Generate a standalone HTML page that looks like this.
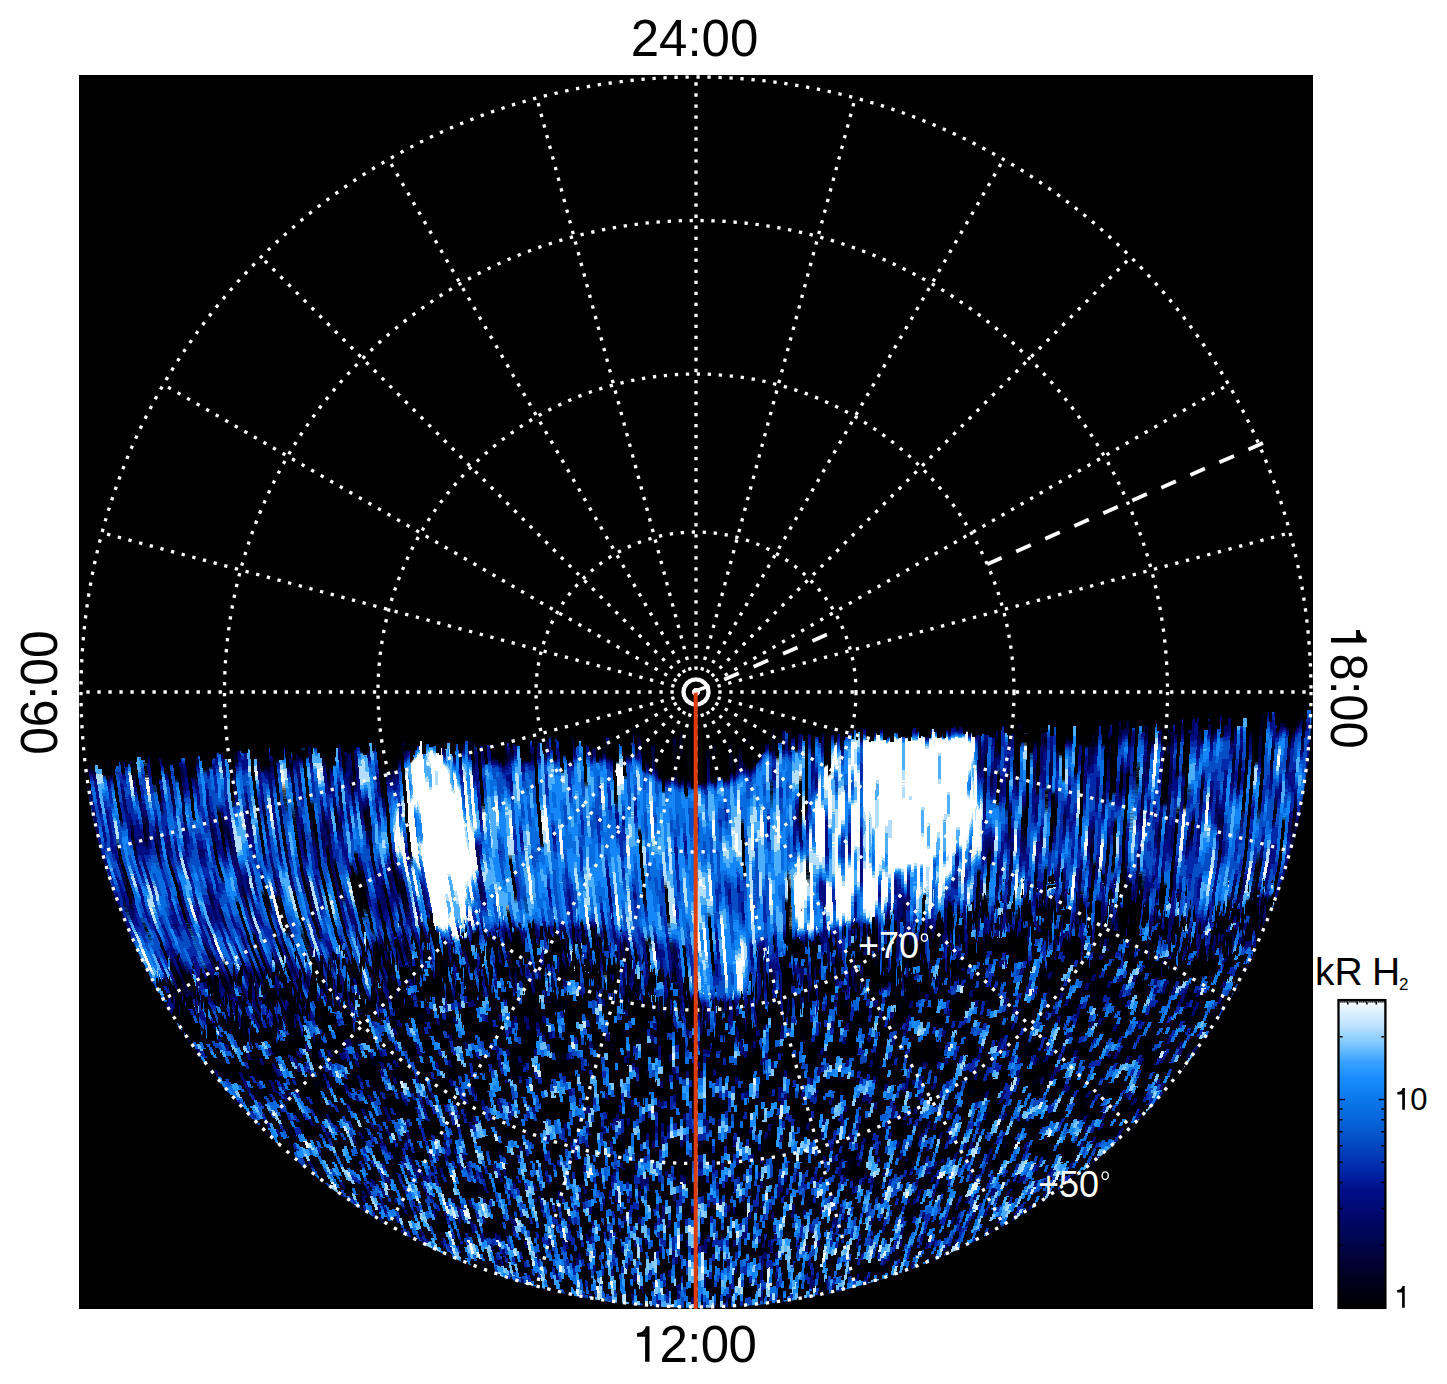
<!DOCTYPE html>
<html><head><meta charset="utf-8"><style>
html,body{margin:0;padding:0;background:#fff;}
svg{display:block;}
text{font-family:"Liberation Sans",sans-serif;}
</style></head><body>
<svg width="1447" height="1384" viewBox="0 0 1447 1384">
<defs>
<clipPath id="sq"><rect x="79" y="75" width="1234" height="1234"/></clipPath>
<clipPath id="circ"><circle cx="696" cy="692" r="616"/></clipPath>
<clipPath id="dc" clip-path="url(#circ)"><path d="M79 767 L82 767 L82 766 L84 766 L84 770 L86 770 L86 766 L88 766 L88 758 L91 758 L91 770 L95 770 L95 765 L98 765 L98 769 L102 769 L102 769 L104 769 L104 756 L106 756 L106 762 L110 762 L110 769 L113 769 L113 769 L116 769 L116 766 L119 766 L119 762 L122 762 L122 762 L125 762 L125 767 L128 767 L128 764 L130 764 L130 761 L133 761 L133 762 L137 762 L137 757 L141 757 L141 760 L145 760 L145 763 L148 763 L148 756 L151 756 L151 766 L154 766 L154 760 L157 760 L157 757 L160 757 L160 759 L162 759 L162 765 L166 765 L166 765 L169 765 L169 765 L173 765 L173 761 L175 761 L175 756 L178 756 L178 762 L181 762 L181 758 L185 758 L185 765 L187 765 L187 752 L191 752 L191 756 L193 756 L193 764 L196 764 L196 756 L200 756 L200 761 L204 761 L204 752 L207 752 L207 764 L211 764 L211 760 L213 760 L213 758 L216 758 L216 753 L219 753 L219 754 L223 754 L223 759 L227 759 L227 762 L231 762 L231 758 L234 758 L234 751 L238 751 L238 751 L241 751 L241 753 L244 753 L244 753 L248 753 L248 749 L251 749 L251 761 L254 761 L254 759 L257 759 L257 762 L260 762 L260 759 L262 759 L262 760 L265 760 L265 754 L268 754 L268 748 L270 748 L270 756 L274 756 L274 756 L278 756 L278 760 L282 760 L282 760 L284 760 L284 747 L288 747 L288 759 L291 759 L291 753 L293 753 L293 760 L296 760 L296 754 L299 754 L299 752 L301 752 L301 748 L305 748 L305 758 L308 758 L308 746 L311 746 L311 754 L313 754 L313 748 L317 748 L317 753 L320 753 L320 758 L322 758 L322 749 L325 749 L325 753 L328 753 L328 752 L331 752 L331 745 L334 745 L334 757 L336 757 L336 748 L339 748 L339 745 L341 745 L341 749 L344 749 L344 752 L347 752 L347 754 L350 754 L350 751 L353 751 L353 750 L356 750 L356 747 L360 747 L360 748 L363 748 L363 755 L367 755 L367 753 L369 753 L369 743 L372 743 L372 751 L375 751 L375 748 L378 748 L378 751 L381 751 L381 743 L384 743 L384 756 L386 756 L386 754 L389 754 L389 753 L393 753 L393 748 L395 748 L395 750 L398 750 L398 745 L400 745 L400 745 L402 745 L402 743 L405 743 L405 750 L408 750 L408 751 L411 751 L411 755 L415 755 L415 750 L417 750 L417 746 L420 746 L420 741 L422 741 L422 754 L426 754 L426 744 L429 744 L429 747 L433 747 L433 746 L436 746 L436 753 L439 753 L439 755 L441 755 L441 748 L444 748 L444 749 L447 749 L447 743 L450 743 L450 754 L453 754 L453 751 L456 751 L456 744 L459 744 L459 751 L463 751 L463 743 L465 743 L465 741 L468 741 L468 742 L472 742 L472 743 L475 743 L475 747 L477 747 L477 742 L480 742 L480 746 L483 746 L483 752 L487 752 L487 745 L489 745 L489 746 L492 746 L492 744 L496 744 L496 743 L498 743 L498 741 L500 741 L500 750 L503 750 L503 753 L505 753 L505 747 L507 747 L507 743 L509 743 L509 747 L512 747 L512 744 L516 744 L516 746 L520 746 L520 746 L523 746 L523 743 L526 743 L526 739 L529 739 L529 741 L532 741 L532 747 L536 747 L536 747 L538 747 L538 743 L542 743 L542 751 L545 751 L545 741 L548 741 L548 738 L551 738 L551 750 L554 750 L554 738 L557 738 L557 741 L559 741 L559 746 L563 746 L563 749 L566 749 L566 749 L570 749 L570 737 L574 737 L574 747 L577 747 L577 746 L579 746 L579 741 L581 741 L581 746 L585 746 L585 745 L587 745 L587 746 L590 746 L590 744 L592 744 L592 749 L595 749 L595 736 L597 736 L597 749 L600 749 L600 749 L603 749 L603 747 L606 747 L606 738 L609 738 L609 745 L613 745 L613 740 L615 740 L615 746 L618 746 L618 744 L620 744 L620 746 L622 746 L622 741 L625 741 L625 748 L628 748 L628 748 L630 748 L630 743 L633 743 L633 734 L637 734 L637 735 L640 735 L640 740 L642 740 L642 741 L645 741 L645 735 L648 735 L648 745 L651 745 L651 745 L654 745 L654 739 L657 739 L657 744 L660 744 L660 744 L662 744 L662 733 L664 733 L664 747 L667 747 L667 740 L670 740 L670 734 L672 734 L672 738 L676 738 L676 738 L680 738 L680 732 L683 732 L683 737 L686 737 L686 742 L689 742 L689 741 L692 741 L692 732 L695 732 L695 745 L698 745 L698 740 L700 740 L700 744 L704 744 L704 733 L707 733 L707 737 L710 737 L710 745 L713 745 L713 743 L717 743 L717 745 L720 745 L720 731 L723 731 L723 742 L726 742 L726 742 L729 742 L729 745 L733 745 L733 744 L736 744 L736 738 L739 738 L739 742 L741 742 L741 744 L743 744 L743 743 L745 743 L745 740 L748 740 L748 741 L751 741 L751 744 L754 744 L754 736 L758 736 L758 734 L762 734 L762 743 L765 743 L765 744 L769 744 L769 734 L772 734 L772 732 L774 732 L774 733 L777 733 L777 743 L779 743 L779 743 L782 743 L782 731 L786 731 L786 733 L788 733 L788 736 L791 736 L791 738 L793 738 L793 738 L795 738 L795 734 L797 734 L797 735 L799 735 L799 734 L803 734 L803 741 L805 741 L805 732 L808 732 L808 734 L811 734 L811 741 L815 741 L815 737 L819 737 L819 743 L822 743 L822 733 L825 733 L825 743 L828 743 L828 740 L831 740 L831 735 L834 735 L834 743 L836 743 L836 737 L838 737 L838 734 L842 734 L842 740 L845 740 L845 737 L849 737 L849 733 L852 733 L852 739 L854 739 L854 730 L856 730 L856 740 L858 740 L858 732 L862 732 L862 729 L866 729 L866 740 L869 740 L869 742 L871 742 L871 741 L874 741 L874 729 L877 729 L877 735 L880 735 L880 730 L883 730 L883 740 L887 740 L887 737 L890 737 L890 742 L894 742 L894 733 L898 733 L898 738 L901 738 L901 737 L905 737 L905 738 L908 738 L908 741 L911 741 L911 730 L913 730 L913 728 L916 728 L916 732 L919 732 L919 738 L921 738 L921 736 L923 736 L923 737 L927 737 L927 731 L929 731 L929 738 L931 738 L931 729 L934 729 L934 732 L937 732 L937 738 L940 738 L940 735 L943 735 L943 738 L946 738 L946 730 L950 730 L950 728 L954 728 L954 727 L957 727 L957 730 L959 730 L959 727 L963 727 L963 734 L966 734 L966 731 L969 731 L969 733 L972 733 L972 737 L976 737 L976 735 L979 735 L979 736 L982 736 L982 734 L985 734 L985 735 L989 735 L989 737 L992 737 L992 738 L996 738 L996 731 L1000 731 L1000 726 L1004 726 L1004 733 L1007 733 L1007 735 L1010 735 L1010 734 L1012 734 L1012 734 L1015 734 L1015 735 L1018 735 L1018 725 L1022 725 L1022 733 L1025 733 L1025 733 L1028 733 L1028 727 L1032 727 L1032 734 L1035 734 L1035 736 L1038 736 L1038 736 L1041 736 L1041 733 L1045 733 L1045 732 L1048 732 L1048 725 L1050 725 L1050 736 L1054 736 L1054 727 L1058 727 L1058 723 L1062 723 L1062 736 L1066 736 L1066 724 L1070 724 L1070 723 L1073 723 L1073 726 L1076 726 L1076 735 L1078 735 L1078 723 L1082 723 L1082 735 L1084 735 L1084 736 L1087 736 L1087 733 L1089 733 L1089 727 L1092 727 L1092 722 L1095 722 L1095 729 L1099 729 L1099 726 L1101 726 L1101 735 L1104 735 L1104 729 L1107 729 L1107 731 L1110 731 L1110 725 L1112 725 L1112 735 L1115 735 L1115 721 L1118 721 L1118 722 L1121 722 L1121 729 L1124 729 L1124 728 L1126 728 L1126 721 L1129 721 L1129 734 L1132 734 L1132 728 L1136 728 L1136 734 L1139 734 L1139 726 L1142 726 L1142 732 L1144 732 L1144 725 L1148 725 L1148 730 L1152 730 L1152 732 L1155 732 L1155 724 L1157 724 L1157 731 L1160 731 L1160 730 L1163 730 L1163 731 L1166 731 L1166 730 L1169 730 L1169 732 L1173 732 L1173 725 L1176 725 L1176 726 L1178 726 L1178 719 L1181 719 L1181 719 L1183 719 L1183 730 L1186 730 L1186 727 L1188 727 L1188 730 L1192 730 L1192 719 L1195 719 L1195 722 L1197 722 L1197 718 L1200 718 L1200 729 L1204 729 L1204 730 L1208 730 L1208 719 L1211 719 L1211 725 L1213 725 L1213 730 L1216 730 L1216 729 L1220 729 L1220 716 L1222 716 L1222 723 L1225 723 L1225 725 L1228 725 L1228 718 L1232 718 L1232 728 L1236 728 L1236 726 L1240 726 L1240 726 L1243 726 L1243 718 L1247 718 L1247 727 L1251 727 L1251 724 L1255 724 L1255 726 L1257 726 L1257 721 L1259 721 L1259 723 L1261 723 L1261 714 L1264 714 L1264 722 L1267 722 L1267 712 L1269 712 L1269 722 L1272 722 L1272 712 L1275 712 L1275 725 L1277 725 L1277 724 L1280 724 L1280 723 L1284 723 L1284 711 L1288 711 L1288 713 L1292 713 L1292 712 L1295 712 L1295 710 L1298 710 L1298 722 L1301 722 L1301 711 L1304 711 L1304 714 L1307 714 L1307 710 L1311 710 L1311 717 L1313 717 L1313 1310 L79 1310 Z"/></clipPath>
<filter id="fU" x="60" y="680" width="1280" height="460" filterUnits="userSpaceOnUse" primitiveUnits="userSpaceOnUse" color-interpolation-filters="sRGB">
<feGaussianBlur in="SourceGraphic" stdDeviation="5" result="src"/>
<feColorMatrix in="src" type="matrix" values="1 0 0 0 0  1 0 0 0 0  1 0 0 0 0  0 0 0 0 1" result="bias"/>
<feColorMatrix in="src" type="matrix" values="0 1 0 0 0  0 0 0 0 0.5  0 0 0 0 0  0 0 0 0 1" result="dmap"/>
<feTurbulence type="fractalNoise" baseFrequency="0.2 0.015" numOctaves="2" seed="11" result="t"/>
<feColorMatrix in="t" type="matrix" values="1.0 0 0 0 0.0  1.0 0 0 0 0.0  1.0 0 0 0 0.0  0 0 0 0 1" result="n0"/>
<feFlood x="60" y="680" width="1" height="1" flood-color="#fff" result="nd"/>
<feComposite in="nd" in2="nd" x="60" y="680" width="3" height="1" operator="over" result="nc"/>
<feTile in="nc" x="60" y="680" width="1280" height="460" result="ng"/>
<feComposite in="n0" in2="ng" operator="in" result="ns"/>
<feMorphology in="ns" operator="dilate" radius="1 0" result="n"/>
<feDisplacementMap in="n" in2="dmap" scale="240.0" xChannelSelector="R" yChannelSelector="G" result="nd"/>
<feColorMatrix in="src" type="matrix" values="0 0 1 0 0  0 0 1 0 0  0 0 1 0 0  0 0 0 0 1" result="amap"/>
<feComposite in="amap" in2="nd" operator="arithmetic" k1="3.0" k2="-1.5" k3="0" k4="0.5" result="p"/>
<feComposite in="bias" in2="p" operator="arithmetic" k1="0" k2="1.6" k3="1" k4="-0.8" result="s"/>
<feComponentTransfer in="s" result="c">
<feFuncR type="discrete" tableValues="0.000 0.000 0.000 0.000 0.000 0.001 0.018 0.031 0.082 0.305 0.707 1.000"/>
<feFuncG type="discrete" tableValues="0.000 0.000 0.013 0.027 0.050 0.164 0.304 0.424 0.529 0.680 0.874 1.000"/>
<feFuncB type="discrete" tableValues="0.000 0.114 0.254 0.385 0.511 0.664 0.770 0.878 0.976 1.000 1.000 1.000"/>
<feFuncA type="linear" slope="0" intercept="1"/>
</feComponentTransfer>
<feTurbulence type="fractalNoise" baseFrequency="0.3 0.006" numOctaves="2" seed="31" result="tg"/>
<feColorMatrix in="tg" type="matrix" values="1 0 0 0 0  1 0 0 0 0  1 0 0 0 0  0 0 0 0 1" result="g0"/>
<feFlood x="60" y="680" width="1" height="1" flood-color="#fff" result="gqd"/>
<feComposite in="gqd" in2="gqd" x="60" y="680" width="3" height="1" operator="over" result="gqc"/>
<feTile in="gqc" x="60" y="680" width="1280" height="460" result="gqg"/>
<feComposite in="g0" in2="gqg" operator="in" result="gqs"/>
<feMorphology in="gqs" operator="dilate" radius="1 0" result="gq"/>
<feDisplacementMap in="gq" in2="dmap" scale="240.0" xChannelSelector="R" yChannelSelector="G" result="gd"/>
<feComposite in="gd" in2="bias" operator="arithmetic" k1="0" k2="1" k3="0.5" k4="-0.245" result="gv"/>
<feComponentTransfer in="gv" result="gm"><feFuncR type="linear" slope="40" intercept="-14.0"/><feFuncG type="linear" slope="40" intercept="-14.0"/><feFuncB type="linear" slope="40" intercept="-14.0"/><feFuncA type="linear" slope="0" intercept="1"/></feComponentTransfer>
<feComposite in="c" in2="gm" operator="arithmetic" k1="1" k2="0" k3="0" k4="0"/>
</filter>
<filter id="fL" x="60" y="880" width="1280" height="450" filterUnits="userSpaceOnUse" primitiveUnits="userSpaceOnUse" color-interpolation-filters="sRGB">
<feGaussianBlur in="SourceGraphic" stdDeviation="5" result="src"/>
<feColorMatrix in="src" type="matrix" values="1 0 0 0 0  1 0 0 0 0  1 0 0 0 0  0 0 0 0 1" result="bias"/>
<feColorMatrix in="src" type="matrix" values="0 1 0 0 0  0 0 0 0 0.5  0 0 0 0 0  0 0 0 0 1" result="dmap"/>
<feTurbulence type="fractalNoise" baseFrequency="0.15 0.05" numOctaves="3" seed="5" result="t"/>
<feColorMatrix in="t" type="matrix" values="0.87 0 0 0 0.065  0.87 0 0 0 0.065  0.87 0 0 0 0.065  0 0 0 0 1" result="n0"/>
<feFlood x="61" y="883" width="1" height="1" flood-color="#fff" result="nd0"/>
<feFlood x="64" y="886" width="1" height="1" flood-color="#fff" result="nd1"/>
<feFlood x="67" y="884" width="1" height="1" flood-color="#fff" result="nd2"/>
<feFlood x="70" y="886" width="1" height="1" flood-color="#fff" result="nd3"/>
<feFlood x="73" y="883" width="1" height="1" flood-color="#fff" result="nd4"/>
<feFlood x="76" y="884" width="1" height="1" flood-color="#fff" result="nd5"/>
<feFlood x="79" y="886" width="1" height="1" flood-color="#fff" result="nd6"/>
<feFlood x="82" y="884" width="1" height="1" flood-color="#fff" result="nd7"/>
<feFlood x="85" y="881" width="1" height="1" flood-color="#fff" result="nd8"/>
<feFlood x="88" y="886" width="1" height="1" flood-color="#fff" result="nd9"/>
<feFlood x="91" y="884" width="1" height="1" flood-color="#fff" result="nd10"/>
<feFlood x="94" y="883" width="1" height="1" flood-color="#fff" result="nd11"/>
<feFlood x="97" y="885" width="1" height="1" flood-color="#fff" result="nd12"/>
<feFlood x="100" y="884" width="1" height="1" flood-color="#fff" result="nd13"/>
<feFlood x="103" y="886" width="1" height="1" flood-color="#fff" result="nd14"/>
<feFlood x="106" y="881" width="1" height="1" flood-color="#fff" result="nd15"/>
<feFlood x="109" y="880" width="1" height="1" flood-color="#fff" result="nd16"/>
<feFlood x="112" y="883" width="1" height="1" flood-color="#fff" result="nd17"/>
<feFlood x="115" y="882" width="1" height="1" flood-color="#fff" result="nd18"/>
<feFlood x="118" y="881" width="1" height="1" flood-color="#fff" result="nd19"/>
<feFlood x="121" y="880" width="1" height="1" flood-color="#fff" result="nd20"/>
<feFlood x="124" y="884" width="1" height="1" flood-color="#fff" result="nd21"/>
<feFlood x="127" y="886" width="1" height="1" flood-color="#fff" result="nd22"/>
<feFlood x="130" y="885" width="1" height="1" flood-color="#fff" result="nd23"/>
<feFlood x="133" y="880" width="1" height="1" flood-color="#fff" result="nd24"/>
<feFlood x="136" y="884" width="1" height="1" flood-color="#fff" result="nd25"/>
<feFlood x="139" y="883" width="1" height="1" flood-color="#fff" result="nd26"/>
<feFlood x="142" y="885" width="1" height="1" flood-color="#fff" result="nd27"/>
<feFlood x="145" y="884" width="1" height="1" flood-color="#fff" result="nd28"/>
<feFlood x="148" y="885" width="1" height="1" flood-color="#fff" result="nd29"/>
<feFlood x="151" y="881" width="1" height="1" flood-color="#fff" result="nd30"/>
<feMerge x="60" y="880" width="93" height="7" result="nc"><feMergeNode in="nd0"/><feMergeNode in="nd1"/><feMergeNode in="nd2"/><feMergeNode in="nd3"/><feMergeNode in="nd4"/><feMergeNode in="nd5"/><feMergeNode in="nd6"/><feMergeNode in="nd7"/><feMergeNode in="nd8"/><feMergeNode in="nd9"/><feMergeNode in="nd10"/><feMergeNode in="nd11"/><feMergeNode in="nd12"/><feMergeNode in="nd13"/><feMergeNode in="nd14"/><feMergeNode in="nd15"/><feMergeNode in="nd16"/><feMergeNode in="nd17"/><feMergeNode in="nd18"/><feMergeNode in="nd19"/><feMergeNode in="nd20"/><feMergeNode in="nd21"/><feMergeNode in="nd22"/><feMergeNode in="nd23"/><feMergeNode in="nd24"/><feMergeNode in="nd25"/><feMergeNode in="nd26"/><feMergeNode in="nd27"/><feMergeNode in="nd28"/><feMergeNode in="nd29"/><feMergeNode in="nd30"/></feMerge>
<feTile in="nc" x="60" y="880" width="1280" height="450" result="ng"/>
<feComposite in="n0" in2="ng" operator="in" result="ns"/>
<feMorphology in="ns" operator="dilate" radius="1 3" result="n"/>
<feDisplacementMap in="n" in2="dmap" scale="345.0" xChannelSelector="R" yChannelSelector="G" result="nd"/>
<feColorMatrix in="src" type="matrix" values="0 0 1 0 0  0 0 1 0 0  0 0 1 0 0  0 0 0 0 1" result="amap"/>
<feComposite in="amap" in2="nd" operator="arithmetic" k1="3.0" k2="-1.5" k3="0" k4="0.5" result="p"/>
<feComposite in="bias" in2="p" operator="arithmetic" k1="0" k2="1.6" k3="1" k4="-0.8" result="s"/>
<feComponentTransfer in="s" result="c">
<feFuncR type="discrete" tableValues="0.000 0.000 0.000 0.000 0.000 0.000 0.000 0.000 0.000 0.000 0.000 0.000 0.000 0.000 0.000 0.000 0.000 0.000 0.000 0.000 0.000 0.000 0.016 0.023 0.033 0.059 0.101 0.184 0.287 0.402 0.496 0.563 0.673 0.779 0.837 0.879 1.000 1.000 1.000 1.000"/>
<feFuncG type="discrete" tableValues="0.000 0.000 0.000 0.000 0.000 0.000 0.000 0.000 0.000 0.000 0.000 0.000 0.000 0.000 0.000 0.000 0.000 0.000 0.000 0.000 0.032 0.148 0.271 0.372 0.438 0.498 0.555 0.612 0.671 0.732 0.781 0.811 0.859 0.905 0.930 0.948 1.000 1.000 1.000 1.000"/>
<feFuncB type="discrete" tableValues="0.000 0.000 0.000 0.000 0.001 0.001 0.001 0.002 0.002 0.003 0.004 0.006 0.007 0.009 0.011 0.014 0.017 0.019 0.023 0.092 0.429 0.648 0.741 0.828 0.892 0.949 0.999 1.000 1.000 1.000 1.000 1.000 1.000 1.000 1.000 1.000 1.000 1.000 1.000 1.000"/>
<feFuncA type="linear" slope="0" intercept="1"/>
</feComponentTransfer>

</filter>
<filter id="mthr" x="60" y="600" width="1280" height="730" filterUnits="userSpaceOnUse" primitiveUnits="userSpaceOnUse" color-interpolation-filters="sRGB">
<feGaussianBlur in="SourceGraphic" stdDeviation="13" result="b"/>
<feColorMatrix in="b" type="matrix" values="1 0 0 0 0  1 0 0 0 0  1 0 0 0 0  0 0 0 0 1" result="m"/>
<feTurbulence type="fractalNoise" baseFrequency="0.25 0.03" numOctaves="2" seed="21" result="t"/>
<feColorMatrix in="t" type="matrix" values="2.2 0 0 0 -0.6  2.2 0 0 0 -0.6  2.2 0 0 0 -0.6  0 0 0 0 1" result="tn0"/>
<feComponentTransfer in="tn0" result="tn"><feFuncR type="linear" slope="-0.94" intercept="0.97"/><feFuncG type="linear" slope="-0.94" intercept="0.97"/><feFuncB type="linear" slope="-0.94" intercept="0.97"/><feFuncA type="linear" slope="0" intercept="1"/></feComponentTransfer>
<feComposite in="m" in2="tn" operator="arithmetic" k1="0" k2="1" k3="1" k4="-0.5" result="d"/>
<feComponentTransfer in="d"><feFuncR type="linear" slope="60" intercept="-30"/><feFuncG type="linear" slope="60" intercept="-30"/><feFuncB type="linear" slope="60" intercept="-30"/><feFuncA type="linear" slope="0" intercept="1"/></feComponentTransfer>
</filter>
<mask id="mU" maskUnits="userSpaceOnUse" x="60" y="600" width="1280" height="730">
<g filter="url(#mthr)"><rect x="0" y="560" width="1447" height="824" fill="#000"/><path d="M60.0 600.0 L1340.0 600.0 L1340.0 880.0 L1300.0 880.0 L1200.0 920.0 L1100.0 900.0 L1000.0 900.0 L900.0 930.0 L800.0 940.0 L745.0 1000.0 L690.0 1000.0 L600.0 935.0 L480.0 935.0 L420.0 940.0 L300.0 980.0 L85.0 1000.0 L60.0 1000.0 Z" fill="#fff"/><path d="M60.0 985.0 L300.0 965.0 L420.0 928.0 L600.0 925.0 L690.0 990.0 L745.0 990.0 L800.0 930.0 L900.0 920.0 L1000.0 890.0 L1100.0 890.0 L1200.0 910.0 L1340.0 870.0 L1340.0 930.0 L1200.0 965.0 L1100.0 950.0 L1000.0 955.0 L900.0 985.0 L800.0 1000.0 L745.0 1040.0 L690.0 1040.0 L600.0 995.0 L420.0 995.0 L300.0 1030.0 L60.0 1040.0 Z" fill="rgb(115,115,115)"/></g>
</mask>
<linearGradient id="a0" x1="0" y1="680" x2="0" y2="1140" gradientUnits="userSpaceOnUse"><stop offset="0.000" stop-color="rgb(0,206,0)"/><stop offset="0.130" stop-color="rgb(0,198,0)"/><stop offset="0.261" stop-color="rgb(0,189,0)"/><stop offset="0.391" stop-color="rgb(0,178,0)"/><stop offset="0.522" stop-color="rgb(0,158,0)"/><stop offset="0.652" stop-color="rgb(0,129,0)"/><stop offset="0.783" stop-color="rgb(0,89,0)"/><stop offset="0.913" stop-color="rgb(0,40,0)"/><stop offset="1.000" stop-color="rgb(0,2,0)"/></linearGradient>
<linearGradient id="a1" x1="0" y1="680" x2="0" y2="1140" gradientUnits="userSpaceOnUse"><stop offset="0.000" stop-color="rgb(0,205,0)"/><stop offset="0.130" stop-color="rgb(0,196,0)"/><stop offset="0.261" stop-color="rgb(0,188,0)"/><stop offset="0.391" stop-color="rgb(0,177,0)"/><stop offset="0.522" stop-color="rgb(0,158,0)"/><stop offset="0.652" stop-color="rgb(0,129,0)"/><stop offset="0.783" stop-color="rgb(0,90,0)"/><stop offset="0.913" stop-color="rgb(0,42,0)"/><stop offset="1.000" stop-color="rgb(0,5,0)"/></linearGradient>
<linearGradient id="a2" x1="0" y1="680" x2="0" y2="1140" gradientUnits="userSpaceOnUse"><stop offset="0.000" stop-color="rgb(0,203,0)"/><stop offset="0.130" stop-color="rgb(0,195,0)"/><stop offset="0.261" stop-color="rgb(0,186,0)"/><stop offset="0.391" stop-color="rgb(0,176,0)"/><stop offset="0.522" stop-color="rgb(0,157,0)"/><stop offset="0.652" stop-color="rgb(0,129,0)"/><stop offset="0.783" stop-color="rgb(0,91,0)"/><stop offset="0.913" stop-color="rgb(0,44,0)"/><stop offset="1.000" stop-color="rgb(0,7,0)"/></linearGradient>
<linearGradient id="a3" x1="0" y1="680" x2="0" y2="1140" gradientUnits="userSpaceOnUse"><stop offset="0.000" stop-color="rgb(0,201,0)"/><stop offset="0.130" stop-color="rgb(0,193,0)"/><stop offset="0.261" stop-color="rgb(0,185,0)"/><stop offset="0.391" stop-color="rgb(0,175,0)"/><stop offset="0.522" stop-color="rgb(0,156,0)"/><stop offset="0.652" stop-color="rgb(0,129,0)"/><stop offset="0.783" stop-color="rgb(0,92,0)"/><stop offset="0.913" stop-color="rgb(0,46,0)"/><stop offset="1.000" stop-color="rgb(0,10,0)"/></linearGradient>
<linearGradient id="a4" x1="0" y1="680" x2="0" y2="1140" gradientUnits="userSpaceOnUse"><stop offset="0.000" stop-color="rgb(0,200,0)"/><stop offset="0.130" stop-color="rgb(0,192,0)"/><stop offset="0.261" stop-color="rgb(0,184,0)"/><stop offset="0.391" stop-color="rgb(0,174,0)"/><stop offset="0.522" stop-color="rgb(0,156,0)"/><stop offset="0.652" stop-color="rgb(0,129,0)"/><stop offset="0.783" stop-color="rgb(0,93,0)"/><stop offset="0.913" stop-color="rgb(0,47,0)"/><stop offset="1.000" stop-color="rgb(0,13,0)"/></linearGradient>
<linearGradient id="a5" x1="0" y1="680" x2="0" y2="1140" gradientUnits="userSpaceOnUse"><stop offset="0.000" stop-color="rgb(0,198,0)"/><stop offset="0.130" stop-color="rgb(0,190,0)"/><stop offset="0.261" stop-color="rgb(0,183,0)"/><stop offset="0.391" stop-color="rgb(0,173,0)"/><stop offset="0.522" stop-color="rgb(0,155,0)"/><stop offset="0.652" stop-color="rgb(0,129,0)"/><stop offset="0.783" stop-color="rgb(0,93,0)"/><stop offset="0.913" stop-color="rgb(0,49,0)"/><stop offset="1.000" stop-color="rgb(0,15,0)"/></linearGradient>
<linearGradient id="a6" x1="0" y1="680" x2="0" y2="1140" gradientUnits="userSpaceOnUse"><stop offset="0.000" stop-color="rgb(0,197,0)"/><stop offset="0.130" stop-color="rgb(0,189,0)"/><stop offset="0.261" stop-color="rgb(0,181,0)"/><stop offset="0.391" stop-color="rgb(0,172,0)"/><stop offset="0.522" stop-color="rgb(0,155,0)"/><stop offset="0.652" stop-color="rgb(0,129,0)"/><stop offset="0.783" stop-color="rgb(0,94,0)"/><stop offset="0.913" stop-color="rgb(0,51,0)"/><stop offset="1.000" stop-color="rgb(0,18,0)"/></linearGradient>
<linearGradient id="a7" x1="0" y1="680" x2="0" y2="1140" gradientUnits="userSpaceOnUse"><stop offset="0.000" stop-color="rgb(0,195,0)"/><stop offset="0.130" stop-color="rgb(0,188,0)"/><stop offset="0.261" stop-color="rgb(0,180,0)"/><stop offset="0.391" stop-color="rgb(0,171,0)"/><stop offset="0.522" stop-color="rgb(0,154,0)"/><stop offset="0.652" stop-color="rgb(0,129,0)"/><stop offset="0.783" stop-color="rgb(0,95,0)"/><stop offset="0.913" stop-color="rgb(0,53,0)"/><stop offset="1.000" stop-color="rgb(0,20,0)"/></linearGradient>
<linearGradient id="a8" x1="0" y1="680" x2="0" y2="1140" gradientUnits="userSpaceOnUse"><stop offset="0.000" stop-color="rgb(0,193,0)"/><stop offset="0.130" stop-color="rgb(0,186,0)"/><stop offset="0.261" stop-color="rgb(0,179,0)"/><stop offset="0.391" stop-color="rgb(0,170,0)"/><stop offset="0.522" stop-color="rgb(0,153,0)"/><stop offset="0.652" stop-color="rgb(0,129,0)"/><stop offset="0.783" stop-color="rgb(0,96,0)"/><stop offset="0.913" stop-color="rgb(0,55,0)"/><stop offset="1.000" stop-color="rgb(0,23,0)"/></linearGradient>
<linearGradient id="a9" x1="0" y1="680" x2="0" y2="1140" gradientUnits="userSpaceOnUse"><stop offset="0.000" stop-color="rgb(0,192,0)"/><stop offset="0.130" stop-color="rgb(0,185,0)"/><stop offset="0.261" stop-color="rgb(0,178,0)"/><stop offset="0.391" stop-color="rgb(0,169,0)"/><stop offset="0.522" stop-color="rgb(0,153,0)"/><stop offset="0.652" stop-color="rgb(0,128,0)"/><stop offset="0.783" stop-color="rgb(0,96,0)"/><stop offset="0.913" stop-color="rgb(0,56,0)"/><stop offset="1.000" stop-color="rgb(0,25,0)"/></linearGradient>
<linearGradient id="a10" x1="0" y1="680" x2="0" y2="1140" gradientUnits="userSpaceOnUse"><stop offset="0.000" stop-color="rgb(0,190,0)"/><stop offset="0.130" stop-color="rgb(0,183,0)"/><stop offset="0.261" stop-color="rgb(0,177,0)"/><stop offset="0.391" stop-color="rgb(0,168,0)"/><stop offset="0.522" stop-color="rgb(0,152,0)"/><stop offset="0.652" stop-color="rgb(0,128,0)"/><stop offset="0.783" stop-color="rgb(0,97,0)"/><stop offset="0.913" stop-color="rgb(0,58,0)"/><stop offset="1.000" stop-color="rgb(0,28,0)"/></linearGradient>
<linearGradient id="a11" x1="0" y1="680" x2="0" y2="1140" gradientUnits="userSpaceOnUse"><stop offset="0.000" stop-color="rgb(0,189,0)"/><stop offset="0.130" stop-color="rgb(0,182,0)"/><stop offset="0.261" stop-color="rgb(0,175,0)"/><stop offset="0.391" stop-color="rgb(0,167,0)"/><stop offset="0.522" stop-color="rgb(0,151,0)"/><stop offset="0.652" stop-color="rgb(0,128,0)"/><stop offset="0.783" stop-color="rgb(0,98,0)"/><stop offset="0.913" stop-color="rgb(0,60,0)"/><stop offset="1.000" stop-color="rgb(0,30,0)"/></linearGradient>
<linearGradient id="a12" x1="0" y1="680" x2="0" y2="1140" gradientUnits="userSpaceOnUse"><stop offset="0.000" stop-color="rgb(0,187,0)"/><stop offset="0.130" stop-color="rgb(0,181,0)"/><stop offset="0.261" stop-color="rgb(0,174,0)"/><stop offset="0.391" stop-color="rgb(0,166,0)"/><stop offset="0.522" stop-color="rgb(0,151,0)"/><stop offset="0.652" stop-color="rgb(0,128,0)"/><stop offset="0.783" stop-color="rgb(0,99,0)"/><stop offset="0.913" stop-color="rgb(0,62,0)"/><stop offset="1.000" stop-color="rgb(0,33,0)"/></linearGradient>
<linearGradient id="a13" x1="0" y1="680" x2="0" y2="1140" gradientUnits="userSpaceOnUse"><stop offset="0.000" stop-color="rgb(0,185,0)"/><stop offset="0.130" stop-color="rgb(0,179,0)"/><stop offset="0.261" stop-color="rgb(0,173,0)"/><stop offset="0.391" stop-color="rgb(0,165,0)"/><stop offset="0.522" stop-color="rgb(0,150,0)"/><stop offset="0.652" stop-color="rgb(0,128,0)"/><stop offset="0.783" stop-color="rgb(0,99,0)"/><stop offset="0.913" stop-color="rgb(0,63,0)"/><stop offset="1.000" stop-color="rgb(0,35,0)"/></linearGradient>
<linearGradient id="a14" x1="0" y1="680" x2="0" y2="1140" gradientUnits="userSpaceOnUse"><stop offset="0.000" stop-color="rgb(0,184,0)"/><stop offset="0.130" stop-color="rgb(0,178,0)"/><stop offset="0.261" stop-color="rgb(0,172,0)"/><stop offset="0.391" stop-color="rgb(0,164,0)"/><stop offset="0.522" stop-color="rgb(0,150,0)"/><stop offset="0.652" stop-color="rgb(0,128,0)"/><stop offset="0.783" stop-color="rgb(0,100,0)"/><stop offset="0.913" stop-color="rgb(0,65,0)"/><stop offset="1.000" stop-color="rgb(0,38,0)"/></linearGradient>
<linearGradient id="a15" x1="0" y1="680" x2="0" y2="1140" gradientUnits="userSpaceOnUse"><stop offset="0.000" stop-color="rgb(0,182,0)"/><stop offset="0.130" stop-color="rgb(0,176,0)"/><stop offset="0.261" stop-color="rgb(0,170,0)"/><stop offset="0.391" stop-color="rgb(0,163,0)"/><stop offset="0.522" stop-color="rgb(0,149,0)"/><stop offset="0.652" stop-color="rgb(0,128,0)"/><stop offset="0.783" stop-color="rgb(0,101,0)"/><stop offset="0.913" stop-color="rgb(0,67,0)"/><stop offset="1.000" stop-color="rgb(0,40,0)"/></linearGradient>
<linearGradient id="a16" x1="0" y1="680" x2="0" y2="1140" gradientUnits="userSpaceOnUse"><stop offset="0.000" stop-color="rgb(0,181,0)"/><stop offset="0.130" stop-color="rgb(0,175,0)"/><stop offset="0.261" stop-color="rgb(0,169,0)"/><stop offset="0.391" stop-color="rgb(0,162,0)"/><stop offset="0.522" stop-color="rgb(0,148,0)"/><stop offset="0.652" stop-color="rgb(0,128,0)"/><stop offset="0.783" stop-color="rgb(0,102,0)"/><stop offset="0.913" stop-color="rgb(0,69,0)"/><stop offset="1.000" stop-color="rgb(0,43,0)"/></linearGradient>
<linearGradient id="a17" x1="0" y1="680" x2="0" y2="1140" gradientUnits="userSpaceOnUse"><stop offset="0.000" stop-color="rgb(0,179,0)"/><stop offset="0.130" stop-color="rgb(0,173,0)"/><stop offset="0.261" stop-color="rgb(0,168,0)"/><stop offset="0.391" stop-color="rgb(0,161,0)"/><stop offset="0.522" stop-color="rgb(0,148,0)"/><stop offset="0.652" stop-color="rgb(0,128,0)"/><stop offset="0.783" stop-color="rgb(0,103,0)"/><stop offset="0.913" stop-color="rgb(0,70,0)"/><stop offset="1.000" stop-color="rgb(0,45,0)"/></linearGradient>
<linearGradient id="a18" x1="0" y1="680" x2="0" y2="1140" gradientUnits="userSpaceOnUse"><stop offset="0.000" stop-color="rgb(0,178,0)"/><stop offset="0.130" stop-color="rgb(0,172,0)"/><stop offset="0.261" stop-color="rgb(0,167,0)"/><stop offset="0.391" stop-color="rgb(0,160,0)"/><stop offset="0.522" stop-color="rgb(0,147,0)"/><stop offset="0.652" stop-color="rgb(0,128,0)"/><stop offset="0.783" stop-color="rgb(0,103,0)"/><stop offset="0.913" stop-color="rgb(0,72,0)"/><stop offset="1.000" stop-color="rgb(0,48,0)"/></linearGradient>
<linearGradient id="a19" x1="0" y1="680" x2="0" y2="1140" gradientUnits="userSpaceOnUse"><stop offset="0.000" stop-color="rgb(0,176,0)"/><stop offset="0.130" stop-color="rgb(0,171,0)"/><stop offset="0.261" stop-color="rgb(0,165,0)"/><stop offset="0.391" stop-color="rgb(0,159,0)"/><stop offset="0.522" stop-color="rgb(0,146,0)"/><stop offset="0.652" stop-color="rgb(0,128,0)"/><stop offset="0.783" stop-color="rgb(0,104,0)"/><stop offset="0.913" stop-color="rgb(0,74,0)"/><stop offset="1.000" stop-color="rgb(0,50,0)"/></linearGradient>
<linearGradient id="a20" x1="0" y1="680" x2="0" y2="1140" gradientUnits="userSpaceOnUse"><stop offset="0.000" stop-color="rgb(0,174,0)"/><stop offset="0.130" stop-color="rgb(0,169,0)"/><stop offset="0.261" stop-color="rgb(0,164,0)"/><stop offset="0.391" stop-color="rgb(0,158,0)"/><stop offset="0.522" stop-color="rgb(0,146,0)"/><stop offset="0.652" stop-color="rgb(0,128,0)"/><stop offset="0.783" stop-color="rgb(0,105,0)"/><stop offset="0.913" stop-color="rgb(0,76,0)"/><stop offset="1.000" stop-color="rgb(0,53,0)"/></linearGradient>
<linearGradient id="a21" x1="0" y1="680" x2="0" y2="1140" gradientUnits="userSpaceOnUse"><stop offset="0.000" stop-color="rgb(0,173,0)"/><stop offset="0.130" stop-color="rgb(0,168,0)"/><stop offset="0.261" stop-color="rgb(0,163,0)"/><stop offset="0.391" stop-color="rgb(0,157,0)"/><stop offset="0.522" stop-color="rgb(0,145,0)"/><stop offset="0.652" stop-color="rgb(0,128,0)"/><stop offset="0.783" stop-color="rgb(0,106,0)"/><stop offset="0.913" stop-color="rgb(0,77,0)"/><stop offset="1.000" stop-color="rgb(0,55,0)"/></linearGradient>
<linearGradient id="a22" x1="0" y1="680" x2="0" y2="1140" gradientUnits="userSpaceOnUse"><stop offset="0.000" stop-color="rgb(0,171,0)"/><stop offset="0.130" stop-color="rgb(0,166,0)"/><stop offset="0.261" stop-color="rgb(0,162,0)"/><stop offset="0.391" stop-color="rgb(0,156,0)"/><stop offset="0.522" stop-color="rgb(0,145,0)"/><stop offset="0.652" stop-color="rgb(0,128,0)"/><stop offset="0.783" stop-color="rgb(0,106,0)"/><stop offset="0.913" stop-color="rgb(0,79,0)"/><stop offset="1.000" stop-color="rgb(0,58,0)"/></linearGradient>
<linearGradient id="a23" x1="0" y1="680" x2="0" y2="1140" gradientUnits="userSpaceOnUse"><stop offset="0.000" stop-color="rgb(0,170,0)"/><stop offset="0.130" stop-color="rgb(0,165,0)"/><stop offset="0.261" stop-color="rgb(0,160,0)"/><stop offset="0.391" stop-color="rgb(0,155,0)"/><stop offset="0.522" stop-color="rgb(0,144,0)"/><stop offset="0.652" stop-color="rgb(0,128,0)"/><stop offset="0.783" stop-color="rgb(0,107,0)"/><stop offset="0.913" stop-color="rgb(0,81,0)"/><stop offset="1.000" stop-color="rgb(0,61,0)"/></linearGradient>
<linearGradient id="a24" x1="0" y1="680" x2="0" y2="1140" gradientUnits="userSpaceOnUse"><stop offset="0.000" stop-color="rgb(0,168,0)"/><stop offset="0.130" stop-color="rgb(0,164,0)"/><stop offset="0.261" stop-color="rgb(0,159,0)"/><stop offset="0.391" stop-color="rgb(0,154,0)"/><stop offset="0.522" stop-color="rgb(0,143,0)"/><stop offset="0.652" stop-color="rgb(0,128,0)"/><stop offset="0.783" stop-color="rgb(0,108,0)"/><stop offset="0.913" stop-color="rgb(0,83,0)"/><stop offset="1.000" stop-color="rgb(0,63,0)"/></linearGradient>
<linearGradient id="a25" x1="0" y1="680" x2="0" y2="1140" gradientUnits="userSpaceOnUse"><stop offset="0.000" stop-color="rgb(0,166,0)"/><stop offset="0.130" stop-color="rgb(0,162,0)"/><stop offset="0.261" stop-color="rgb(0,158,0)"/><stop offset="0.391" stop-color="rgb(0,153,0)"/><stop offset="0.522" stop-color="rgb(0,143,0)"/><stop offset="0.652" stop-color="rgb(0,128,0)"/><stop offset="0.783" stop-color="rgb(0,109,0)"/><stop offset="0.913" stop-color="rgb(0,84,0)"/><stop offset="1.000" stop-color="rgb(0,66,0)"/></linearGradient>
<linearGradient id="a26" x1="0" y1="680" x2="0" y2="1140" gradientUnits="userSpaceOnUse"><stop offset="0.000" stop-color="rgb(0,165,0)"/><stop offset="0.130" stop-color="rgb(0,161,0)"/><stop offset="0.261" stop-color="rgb(0,157,0)"/><stop offset="0.391" stop-color="rgb(0,152,0)"/><stop offset="0.522" stop-color="rgb(0,142,0)"/><stop offset="0.652" stop-color="rgb(0,128,0)"/><stop offset="0.783" stop-color="rgb(0,109,0)"/><stop offset="0.913" stop-color="rgb(0,86,0)"/><stop offset="1.000" stop-color="rgb(0,68,0)"/></linearGradient>
<linearGradient id="a27" x1="0" y1="680" x2="0" y2="1140" gradientUnits="userSpaceOnUse"><stop offset="0.000" stop-color="rgb(0,163,0)"/><stop offset="0.130" stop-color="rgb(0,159,0)"/><stop offset="0.261" stop-color="rgb(0,155,0)"/><stop offset="0.391" stop-color="rgb(0,151,0)"/><stop offset="0.522" stop-color="rgb(0,141,0)"/><stop offset="0.652" stop-color="rgb(0,128,0)"/><stop offset="0.783" stop-color="rgb(0,110,0)"/><stop offset="0.913" stop-color="rgb(0,88,0)"/><stop offset="1.000" stop-color="rgb(0,71,0)"/></linearGradient>
<linearGradient id="a28" x1="0" y1="680" x2="0" y2="1140" gradientUnits="userSpaceOnUse"><stop offset="0.000" stop-color="rgb(0,162,0)"/><stop offset="0.130" stop-color="rgb(0,158,0)"/><stop offset="0.261" stop-color="rgb(0,154,0)"/><stop offset="0.391" stop-color="rgb(0,150,0)"/><stop offset="0.522" stop-color="rgb(0,141,0)"/><stop offset="0.652" stop-color="rgb(0,128,0)"/><stop offset="0.783" stop-color="rgb(0,111,0)"/><stop offset="0.913" stop-color="rgb(0,90,0)"/><stop offset="1.000" stop-color="rgb(0,73,0)"/></linearGradient>
<linearGradient id="a29" x1="0" y1="680" x2="0" y2="1140" gradientUnits="userSpaceOnUse"><stop offset="0.000" stop-color="rgb(0,160,0)"/><stop offset="0.130" stop-color="rgb(0,156,0)"/><stop offset="0.261" stop-color="rgb(0,153,0)"/><stop offset="0.391" stop-color="rgb(0,148,0)"/><stop offset="0.522" stop-color="rgb(0,140,0)"/><stop offset="0.652" stop-color="rgb(0,128,0)"/><stop offset="0.783" stop-color="rgb(0,112,0)"/><stop offset="0.913" stop-color="rgb(0,91,0)"/><stop offset="1.000" stop-color="rgb(0,76,0)"/></linearGradient>
<linearGradient id="a30" x1="0" y1="680" x2="0" y2="1140" gradientUnits="userSpaceOnUse"><stop offset="0.000" stop-color="rgb(0,158,0)"/><stop offset="0.130" stop-color="rgb(0,155,0)"/><stop offset="0.261" stop-color="rgb(0,152,0)"/><stop offset="0.391" stop-color="rgb(0,147,0)"/><stop offset="0.522" stop-color="rgb(0,140,0)"/><stop offset="0.652" stop-color="rgb(0,128,0)"/><stop offset="0.783" stop-color="rgb(0,113,0)"/><stop offset="0.913" stop-color="rgb(0,93,0)"/><stop offset="1.000" stop-color="rgb(0,78,0)"/></linearGradient>
<linearGradient id="a31" x1="0" y1="680" x2="0" y2="1140" gradientUnits="userSpaceOnUse"><stop offset="0.000" stop-color="rgb(0,157,0)"/><stop offset="0.130" stop-color="rgb(0,154,0)"/><stop offset="0.261" stop-color="rgb(0,150,0)"/><stop offset="0.391" stop-color="rgb(0,146,0)"/><stop offset="0.522" stop-color="rgb(0,139,0)"/><stop offset="0.652" stop-color="rgb(0,128,0)"/><stop offset="0.783" stop-color="rgb(0,113,0)"/><stop offset="0.913" stop-color="rgb(0,95,0)"/><stop offset="1.000" stop-color="rgb(0,81,0)"/></linearGradient>
<linearGradient id="a32" x1="0" y1="680" x2="0" y2="1140" gradientUnits="userSpaceOnUse"><stop offset="0.000" stop-color="rgb(0,155,0)"/><stop offset="0.130" stop-color="rgb(0,152,0)"/><stop offset="0.261" stop-color="rgb(0,149,0)"/><stop offset="0.391" stop-color="rgb(0,145,0)"/><stop offset="0.522" stop-color="rgb(0,138,0)"/><stop offset="0.652" stop-color="rgb(0,128,0)"/><stop offset="0.783" stop-color="rgb(0,114,0)"/><stop offset="0.913" stop-color="rgb(0,97,0)"/><stop offset="1.000" stop-color="rgb(0,83,0)"/></linearGradient>
<linearGradient id="a33" x1="0" y1="680" x2="0" y2="1140" gradientUnits="userSpaceOnUse"><stop offset="0.000" stop-color="rgb(0,154,0)"/><stop offset="0.130" stop-color="rgb(0,151,0)"/><stop offset="0.261" stop-color="rgb(0,148,0)"/><stop offset="0.391" stop-color="rgb(0,144,0)"/><stop offset="0.522" stop-color="rgb(0,138,0)"/><stop offset="0.652" stop-color="rgb(0,128,0)"/><stop offset="0.783" stop-color="rgb(0,115,0)"/><stop offset="0.913" stop-color="rgb(0,98,0)"/><stop offset="1.000" stop-color="rgb(0,86,0)"/></linearGradient>
<linearGradient id="a34" x1="0" y1="680" x2="0" y2="1140" gradientUnits="userSpaceOnUse"><stop offset="0.000" stop-color="rgb(0,152,0)"/><stop offset="0.130" stop-color="rgb(0,149,0)"/><stop offset="0.261" stop-color="rgb(0,147,0)"/><stop offset="0.391" stop-color="rgb(0,143,0)"/><stop offset="0.522" stop-color="rgb(0,137,0)"/><stop offset="0.652" stop-color="rgb(0,128,0)"/><stop offset="0.783" stop-color="rgb(0,116,0)"/><stop offset="0.913" stop-color="rgb(0,100,0)"/><stop offset="1.000" stop-color="rgb(0,88,0)"/></linearGradient>
<linearGradient id="a35" x1="0" y1="680" x2="0" y2="1140" gradientUnits="userSpaceOnUse"><stop offset="0.000" stop-color="rgb(0,151,0)"/><stop offset="0.130" stop-color="rgb(0,148,0)"/><stop offset="0.261" stop-color="rgb(0,145,0)"/><stop offset="0.391" stop-color="rgb(0,142,0)"/><stop offset="0.522" stop-color="rgb(0,137,0)"/><stop offset="0.652" stop-color="rgb(0,128,0)"/><stop offset="0.783" stop-color="rgb(0,116,0)"/><stop offset="0.913" stop-color="rgb(0,102,0)"/><stop offset="1.000" stop-color="rgb(0,91,0)"/></linearGradient>
<linearGradient id="a36" x1="0" y1="680" x2="0" y2="1140" gradientUnits="userSpaceOnUse"><stop offset="0.000" stop-color="rgb(0,149,0)"/><stop offset="0.130" stop-color="rgb(0,147,0)"/><stop offset="0.261" stop-color="rgb(0,144,0)"/><stop offset="0.391" stop-color="rgb(0,141,0)"/><stop offset="0.522" stop-color="rgb(0,136,0)"/><stop offset="0.652" stop-color="rgb(0,128,0)"/><stop offset="0.783" stop-color="rgb(0,117,0)"/><stop offset="0.913" stop-color="rgb(0,104,0)"/><stop offset="1.000" stop-color="rgb(0,93,0)"/></linearGradient>
<linearGradient id="a37" x1="0" y1="680" x2="0" y2="1140" gradientUnits="userSpaceOnUse"><stop offset="0.000" stop-color="rgb(0,147,0)"/><stop offset="0.130" stop-color="rgb(0,145,0)"/><stop offset="0.261" stop-color="rgb(0,143,0)"/><stop offset="0.391" stop-color="rgb(0,140,0)"/><stop offset="0.522" stop-color="rgb(0,135,0)"/><stop offset="0.652" stop-color="rgb(0,128,0)"/><stop offset="0.783" stop-color="rgb(0,118,0)"/><stop offset="0.913" stop-color="rgb(0,106,0)"/><stop offset="1.000" stop-color="rgb(0,96,0)"/></linearGradient>
<linearGradient id="a38" x1="0" y1="680" x2="0" y2="1140" gradientUnits="userSpaceOnUse"><stop offset="0.000" stop-color="rgb(0,146,0)"/><stop offset="0.130" stop-color="rgb(0,144,0)"/><stop offset="0.261" stop-color="rgb(0,142,0)"/><stop offset="0.391" stop-color="rgb(0,139,0)"/><stop offset="0.522" stop-color="rgb(0,135,0)"/><stop offset="0.652" stop-color="rgb(0,128,0)"/><stop offset="0.783" stop-color="rgb(0,119,0)"/><stop offset="0.913" stop-color="rgb(0,107,0)"/><stop offset="1.000" stop-color="rgb(0,98,0)"/></linearGradient>
<linearGradient id="a39" x1="0" y1="680" x2="0" y2="1140" gradientUnits="userSpaceOnUse"><stop offset="0.000" stop-color="rgb(0,144,0)"/><stop offset="0.130" stop-color="rgb(0,142,0)"/><stop offset="0.261" stop-color="rgb(0,141,0)"/><stop offset="0.391" stop-color="rgb(0,138,0)"/><stop offset="0.522" stop-color="rgb(0,134,0)"/><stop offset="0.652" stop-color="rgb(0,128,0)"/><stop offset="0.783" stop-color="rgb(0,119,0)"/><stop offset="0.913" stop-color="rgb(0,109,0)"/><stop offset="1.000" stop-color="rgb(0,101,0)"/></linearGradient>
<linearGradient id="a40" x1="0" y1="680" x2="0" y2="1140" gradientUnits="userSpaceOnUse"><stop offset="0.000" stop-color="rgb(0,143,0)"/><stop offset="0.130" stop-color="rgb(0,141,0)"/><stop offset="0.261" stop-color="rgb(0,139,0)"/><stop offset="0.391" stop-color="rgb(0,137,0)"/><stop offset="0.522" stop-color="rgb(0,133,0)"/><stop offset="0.652" stop-color="rgb(0,128,0)"/><stop offset="0.783" stop-color="rgb(0,120,0)"/><stop offset="0.913" stop-color="rgb(0,111,0)"/><stop offset="1.000" stop-color="rgb(0,103,0)"/></linearGradient>
<linearGradient id="a41" x1="0" y1="680" x2="0" y2="1140" gradientUnits="userSpaceOnUse"><stop offset="0.000" stop-color="rgb(0,141,0)"/><stop offset="0.130" stop-color="rgb(0,140,0)"/><stop offset="0.261" stop-color="rgb(0,138,0)"/><stop offset="0.391" stop-color="rgb(0,136,0)"/><stop offset="0.522" stop-color="rgb(0,133,0)"/><stop offset="0.652" stop-color="rgb(0,128,0)"/><stop offset="0.783" stop-color="rgb(0,121,0)"/><stop offset="0.913" stop-color="rgb(0,113,0)"/><stop offset="1.000" stop-color="rgb(0,106,0)"/></linearGradient>
<linearGradient id="a42" x1="0" y1="680" x2="0" y2="1140" gradientUnits="userSpaceOnUse"><stop offset="0.000" stop-color="rgb(0,139,0)"/><stop offset="0.130" stop-color="rgb(0,138,0)"/><stop offset="0.261" stop-color="rgb(0,137,0)"/><stop offset="0.391" stop-color="rgb(0,135,0)"/><stop offset="0.522" stop-color="rgb(0,132,0)"/><stop offset="0.652" stop-color="rgb(0,128,0)"/><stop offset="0.783" stop-color="rgb(0,122,0)"/><stop offset="0.913" stop-color="rgb(0,114,0)"/><stop offset="1.000" stop-color="rgb(0,109,0)"/></linearGradient>
<linearGradient id="a43" x1="0" y1="680" x2="0" y2="1140" gradientUnits="userSpaceOnUse"><stop offset="0.000" stop-color="rgb(0,138,0)"/><stop offset="0.130" stop-color="rgb(0,137,0)"/><stop offset="0.261" stop-color="rgb(0,136,0)"/><stop offset="0.391" stop-color="rgb(0,134,0)"/><stop offset="0.522" stop-color="rgb(0,132,0)"/><stop offset="0.652" stop-color="rgb(0,128,0)"/><stop offset="0.783" stop-color="rgb(0,123,0)"/><stop offset="0.913" stop-color="rgb(0,116,0)"/><stop offset="1.000" stop-color="rgb(0,111,0)"/></linearGradient>
<linearGradient id="a44" x1="0" y1="680" x2="0" y2="1140" gradientUnits="userSpaceOnUse"><stop offset="0.000" stop-color="rgb(0,136,0)"/><stop offset="0.130" stop-color="rgb(0,135,0)"/><stop offset="0.261" stop-color="rgb(0,134,0)"/><stop offset="0.391" stop-color="rgb(0,133,0)"/><stop offset="0.522" stop-color="rgb(0,131,0)"/><stop offset="0.652" stop-color="rgb(0,128,0)"/><stop offset="0.783" stop-color="rgb(0,123,0)"/><stop offset="0.913" stop-color="rgb(0,118,0)"/><stop offset="1.000" stop-color="rgb(0,114,0)"/></linearGradient>
<linearGradient id="a45" x1="0" y1="680" x2="0" y2="1140" gradientUnits="userSpaceOnUse"><stop offset="0.000" stop-color="rgb(0,135,0)"/><stop offset="0.130" stop-color="rgb(0,134,0)"/><stop offset="0.261" stop-color="rgb(0,133,0)"/><stop offset="0.391" stop-color="rgb(0,132,0)"/><stop offset="0.522" stop-color="rgb(0,130,0)"/><stop offset="0.652" stop-color="rgb(0,128,0)"/><stop offset="0.783" stop-color="rgb(0,124,0)"/><stop offset="0.913" stop-color="rgb(0,120,0)"/><stop offset="1.000" stop-color="rgb(0,116,0)"/></linearGradient>
<linearGradient id="a46" x1="0" y1="680" x2="0" y2="1140" gradientUnits="userSpaceOnUse"><stop offset="0.000" stop-color="rgb(0,133,0)"/><stop offset="0.130" stop-color="rgb(0,132,0)"/><stop offset="0.261" stop-color="rgb(0,132,0)"/><stop offset="0.391" stop-color="rgb(0,131,0)"/><stop offset="0.522" stop-color="rgb(0,130,0)"/><stop offset="0.652" stop-color="rgb(0,128,0)"/><stop offset="0.783" stop-color="rgb(0,125,0)"/><stop offset="0.913" stop-color="rgb(0,121,0)"/><stop offset="1.000" stop-color="rgb(0,119,0)"/></linearGradient>
<linearGradient id="a47" x1="0" y1="680" x2="0" y2="1140" gradientUnits="userSpaceOnUse"><stop offset="0.000" stop-color="rgb(0,131,0)"/><stop offset="0.130" stop-color="rgb(0,131,0)"/><stop offset="0.261" stop-color="rgb(0,131,0)"/><stop offset="0.391" stop-color="rgb(0,130,0)"/><stop offset="0.522" stop-color="rgb(0,129,0)"/><stop offset="0.652" stop-color="rgb(0,128,0)"/><stop offset="0.783" stop-color="rgb(0,126,0)"/><stop offset="0.913" stop-color="rgb(0,123,0)"/><stop offset="1.000" stop-color="rgb(0,121,0)"/></linearGradient>
<linearGradient id="a48" x1="0" y1="680" x2="0" y2="1140" gradientUnits="userSpaceOnUse"><stop offset="0.000" stop-color="rgb(0,130,0)"/><stop offset="0.130" stop-color="rgb(0,130,0)"/><stop offset="0.261" stop-color="rgb(0,129,0)"/><stop offset="0.391" stop-color="rgb(0,129,0)"/><stop offset="0.522" stop-color="rgb(0,128,0)"/><stop offset="0.652" stop-color="rgb(0,128,0)"/><stop offset="0.783" stop-color="rgb(0,126,0)"/><stop offset="0.913" stop-color="rgb(0,125,0)"/><stop offset="1.000" stop-color="rgb(0,124,0)"/></linearGradient>
<linearGradient id="a49" x1="0" y1="680" x2="0" y2="1140" gradientUnits="userSpaceOnUse"><stop offset="0.000" stop-color="rgb(0,128,0)"/><stop offset="0.130" stop-color="rgb(0,128,0)"/><stop offset="0.261" stop-color="rgb(0,128,0)"/><stop offset="0.391" stop-color="rgb(0,128,0)"/><stop offset="0.522" stop-color="rgb(0,128,0)"/><stop offset="0.652" stop-color="rgb(0,128,0)"/><stop offset="0.783" stop-color="rgb(0,127,0)"/><stop offset="0.913" stop-color="rgb(0,127,0)"/><stop offset="1.000" stop-color="rgb(0,126,0)"/></linearGradient>
<linearGradient id="a50" x1="0" y1="680" x2="0" y2="1140" gradientUnits="userSpaceOnUse"><stop offset="0.000" stop-color="rgb(0,127,0)"/><stop offset="0.130" stop-color="rgb(0,127,0)"/><stop offset="0.261" stop-color="rgb(0,127,0)"/><stop offset="0.391" stop-color="rgb(0,127,0)"/><stop offset="0.522" stop-color="rgb(0,127,0)"/><stop offset="0.652" stop-color="rgb(0,127,0)"/><stop offset="0.783" stop-color="rgb(0,128,0)"/><stop offset="0.913" stop-color="rgb(0,128,0)"/><stop offset="1.000" stop-color="rgb(0,129,0)"/></linearGradient>
<linearGradient id="a51" x1="0" y1="680" x2="0" y2="1140" gradientUnits="userSpaceOnUse"><stop offset="0.000" stop-color="rgb(0,125,0)"/><stop offset="0.130" stop-color="rgb(0,125,0)"/><stop offset="0.261" stop-color="rgb(0,126,0)"/><stop offset="0.391" stop-color="rgb(0,126,0)"/><stop offset="0.522" stop-color="rgb(0,127,0)"/><stop offset="0.652" stop-color="rgb(0,127,0)"/><stop offset="0.783" stop-color="rgb(0,129,0)"/><stop offset="0.913" stop-color="rgb(0,130,0)"/><stop offset="1.000" stop-color="rgb(0,131,0)"/></linearGradient>
<linearGradient id="a52" x1="0" y1="680" x2="0" y2="1140" gradientUnits="userSpaceOnUse"><stop offset="0.000" stop-color="rgb(0,124,0)"/><stop offset="0.130" stop-color="rgb(0,124,0)"/><stop offset="0.261" stop-color="rgb(0,124,0)"/><stop offset="0.391" stop-color="rgb(0,125,0)"/><stop offset="0.522" stop-color="rgb(0,126,0)"/><stop offset="0.652" stop-color="rgb(0,127,0)"/><stop offset="0.783" stop-color="rgb(0,129,0)"/><stop offset="0.913" stop-color="rgb(0,132,0)"/><stop offset="1.000" stop-color="rgb(0,134,0)"/></linearGradient>
<linearGradient id="a53" x1="0" y1="680" x2="0" y2="1140" gradientUnits="userSpaceOnUse"><stop offset="0.000" stop-color="rgb(0,122,0)"/><stop offset="0.130" stop-color="rgb(0,123,0)"/><stop offset="0.261" stop-color="rgb(0,123,0)"/><stop offset="0.391" stop-color="rgb(0,124,0)"/><stop offset="0.522" stop-color="rgb(0,125,0)"/><stop offset="0.652" stop-color="rgb(0,127,0)"/><stop offset="0.783" stop-color="rgb(0,130,0)"/><stop offset="0.913" stop-color="rgb(0,134,0)"/><stop offset="1.000" stop-color="rgb(0,136,0)"/></linearGradient>
<linearGradient id="a54" x1="0" y1="680" x2="0" y2="1140" gradientUnits="userSpaceOnUse"><stop offset="0.000" stop-color="rgb(0,120,0)"/><stop offset="0.130" stop-color="rgb(0,121,0)"/><stop offset="0.261" stop-color="rgb(0,122,0)"/><stop offset="0.391" stop-color="rgb(0,123,0)"/><stop offset="0.522" stop-color="rgb(0,125,0)"/><stop offset="0.652" stop-color="rgb(0,127,0)"/><stop offset="0.783" stop-color="rgb(0,131,0)"/><stop offset="0.913" stop-color="rgb(0,135,0)"/><stop offset="1.000" stop-color="rgb(0,139,0)"/></linearGradient>
<linearGradient id="a55" x1="0" y1="680" x2="0" y2="1140" gradientUnits="userSpaceOnUse"><stop offset="0.000" stop-color="rgb(0,119,0)"/><stop offset="0.130" stop-color="rgb(0,120,0)"/><stop offset="0.261" stop-color="rgb(0,121,0)"/><stop offset="0.391" stop-color="rgb(0,122,0)"/><stop offset="0.522" stop-color="rgb(0,124,0)"/><stop offset="0.652" stop-color="rgb(0,127,0)"/><stop offset="0.783" stop-color="rgb(0,132,0)"/><stop offset="0.913" stop-color="rgb(0,137,0)"/><stop offset="1.000" stop-color="rgb(0,141,0)"/></linearGradient>
<linearGradient id="a56" x1="0" y1="680" x2="0" y2="1140" gradientUnits="userSpaceOnUse"><stop offset="0.000" stop-color="rgb(0,117,0)"/><stop offset="0.130" stop-color="rgb(0,118,0)"/><stop offset="0.261" stop-color="rgb(0,119,0)"/><stop offset="0.391" stop-color="rgb(0,121,0)"/><stop offset="0.522" stop-color="rgb(0,123,0)"/><stop offset="0.652" stop-color="rgb(0,127,0)"/><stop offset="0.783" stop-color="rgb(0,132,0)"/><stop offset="0.913" stop-color="rgb(0,139,0)"/><stop offset="1.000" stop-color="rgb(0,144,0)"/></linearGradient>
<linearGradient id="a57" x1="0" y1="680" x2="0" y2="1140" gradientUnits="userSpaceOnUse"><stop offset="0.000" stop-color="rgb(0,116,0)"/><stop offset="0.130" stop-color="rgb(0,117,0)"/><stop offset="0.261" stop-color="rgb(0,118,0)"/><stop offset="0.391" stop-color="rgb(0,120,0)"/><stop offset="0.522" stop-color="rgb(0,123,0)"/><stop offset="0.652" stop-color="rgb(0,127,0)"/><stop offset="0.783" stop-color="rgb(0,133,0)"/><stop offset="0.913" stop-color="rgb(0,141,0)"/><stop offset="1.000" stop-color="rgb(0,146,0)"/></linearGradient>
<linearGradient id="a58" x1="0" y1="680" x2="0" y2="1140" gradientUnits="userSpaceOnUse"><stop offset="0.000" stop-color="rgb(0,114,0)"/><stop offset="0.130" stop-color="rgb(0,115,0)"/><stop offset="0.261" stop-color="rgb(0,117,0)"/><stop offset="0.391" stop-color="rgb(0,119,0)"/><stop offset="0.522" stop-color="rgb(0,122,0)"/><stop offset="0.652" stop-color="rgb(0,127,0)"/><stop offset="0.783" stop-color="rgb(0,134,0)"/><stop offset="0.913" stop-color="rgb(0,142,0)"/><stop offset="1.000" stop-color="rgb(0,149,0)"/></linearGradient>
<linearGradient id="a59" x1="0" y1="680" x2="0" y2="1140" gradientUnits="userSpaceOnUse"><stop offset="0.000" stop-color="rgb(0,112,0)"/><stop offset="0.130" stop-color="rgb(0,114,0)"/><stop offset="0.261" stop-color="rgb(0,116,0)"/><stop offset="0.391" stop-color="rgb(0,118,0)"/><stop offset="0.522" stop-color="rgb(0,122,0)"/><stop offset="0.652" stop-color="rgb(0,127,0)"/><stop offset="0.783" stop-color="rgb(0,135,0)"/><stop offset="0.913" stop-color="rgb(0,144,0)"/><stop offset="1.000" stop-color="rgb(0,152,0)"/></linearGradient>
<linearGradient id="a60" x1="0" y1="680" x2="0" y2="1140" gradientUnits="userSpaceOnUse"><stop offset="0.000" stop-color="rgb(0,111,0)"/><stop offset="0.130" stop-color="rgb(0,113,0)"/><stop offset="0.261" stop-color="rgb(0,114,0)"/><stop offset="0.391" stop-color="rgb(0,117,0)"/><stop offset="0.522" stop-color="rgb(0,121,0)"/><stop offset="0.652" stop-color="rgb(0,127,0)"/><stop offset="0.783" stop-color="rgb(0,136,0)"/><stop offset="0.913" stop-color="rgb(0,146,0)"/><stop offset="1.000" stop-color="rgb(0,154,0)"/></linearGradient>
<linearGradient id="a61" x1="0" y1="680" x2="0" y2="1140" gradientUnits="userSpaceOnUse"><stop offset="0.000" stop-color="rgb(0,109,0)"/><stop offset="0.130" stop-color="rgb(0,111,0)"/><stop offset="0.261" stop-color="rgb(0,113,0)"/><stop offset="0.391" stop-color="rgb(0,116,0)"/><stop offset="0.522" stop-color="rgb(0,120,0)"/><stop offset="0.652" stop-color="rgb(0,127,0)"/><stop offset="0.783" stop-color="rgb(0,136,0)"/><stop offset="0.913" stop-color="rgb(0,148,0)"/><stop offset="1.000" stop-color="rgb(0,157,0)"/></linearGradient>
<linearGradient id="a62" x1="0" y1="680" x2="0" y2="1140" gradientUnits="userSpaceOnUse"><stop offset="0.000" stop-color="rgb(0,108,0)"/><stop offset="0.130" stop-color="rgb(0,110,0)"/><stop offset="0.261" stop-color="rgb(0,112,0)"/><stop offset="0.391" stop-color="rgb(0,115,0)"/><stop offset="0.522" stop-color="rgb(0,120,0)"/><stop offset="0.652" stop-color="rgb(0,127,0)"/><stop offset="0.783" stop-color="rgb(0,137,0)"/><stop offset="0.913" stop-color="rgb(0,149,0)"/><stop offset="1.000" stop-color="rgb(0,159,0)"/></linearGradient>
<linearGradient id="a63" x1="0" y1="680" x2="0" y2="1140" gradientUnits="userSpaceOnUse"><stop offset="0.000" stop-color="rgb(0,106,0)"/><stop offset="0.130" stop-color="rgb(0,108,0)"/><stop offset="0.261" stop-color="rgb(0,111,0)"/><stop offset="0.391" stop-color="rgb(0,114,0)"/><stop offset="0.522" stop-color="rgb(0,119,0)"/><stop offset="0.652" stop-color="rgb(0,127,0)"/><stop offset="0.783" stop-color="rgb(0,138,0)"/><stop offset="0.913" stop-color="rgb(0,151,0)"/><stop offset="1.000" stop-color="rgb(0,162,0)"/></linearGradient>
<linearGradient id="a64" x1="0" y1="680" x2="0" y2="1140" gradientUnits="userSpaceOnUse"><stop offset="0.000" stop-color="rgb(0,104,0)"/><stop offset="0.130" stop-color="rgb(0,107,0)"/><stop offset="0.261" stop-color="rgb(0,110,0)"/><stop offset="0.391" stop-color="rgb(0,113,0)"/><stop offset="0.522" stop-color="rgb(0,118,0)"/><stop offset="0.652" stop-color="rgb(0,127,0)"/><stop offset="0.783" stop-color="rgb(0,139,0)"/><stop offset="0.913" stop-color="rgb(0,153,0)"/><stop offset="1.000" stop-color="rgb(0,164,0)"/></linearGradient>
<linearGradient id="a65" x1="0" y1="680" x2="0" y2="1140" gradientUnits="userSpaceOnUse"><stop offset="0.000" stop-color="rgb(0,103,0)"/><stop offset="0.130" stop-color="rgb(0,106,0)"/><stop offset="0.261" stop-color="rgb(0,108,0)"/><stop offset="0.391" stop-color="rgb(0,112,0)"/><stop offset="0.522" stop-color="rgb(0,118,0)"/><stop offset="0.652" stop-color="rgb(0,127,0)"/><stop offset="0.783" stop-color="rgb(0,139,0)"/><stop offset="0.913" stop-color="rgb(0,155,0)"/><stop offset="1.000" stop-color="rgb(0,167,0)"/></linearGradient>
<linearGradient id="a66" x1="0" y1="680" x2="0" y2="1140" gradientUnits="userSpaceOnUse"><stop offset="0.000" stop-color="rgb(0,101,0)"/><stop offset="0.130" stop-color="rgb(0,104,0)"/><stop offset="0.261" stop-color="rgb(0,107,0)"/><stop offset="0.391" stop-color="rgb(0,111,0)"/><stop offset="0.522" stop-color="rgb(0,117,0)"/><stop offset="0.652" stop-color="rgb(0,127,0)"/><stop offset="0.783" stop-color="rgb(0,140,0)"/><stop offset="0.913" stop-color="rgb(0,157,0)"/><stop offset="1.000" stop-color="rgb(0,169,0)"/></linearGradient>
<linearGradient id="a67" x1="0" y1="680" x2="0" y2="1140" gradientUnits="userSpaceOnUse"><stop offset="0.000" stop-color="rgb(0,100,0)"/><stop offset="0.130" stop-color="rgb(0,103,0)"/><stop offset="0.261" stop-color="rgb(0,106,0)"/><stop offset="0.391" stop-color="rgb(0,110,0)"/><stop offset="0.522" stop-color="rgb(0,117,0)"/><stop offset="0.652" stop-color="rgb(0,127,0)"/><stop offset="0.783" stop-color="rgb(0,141,0)"/><stop offset="0.913" stop-color="rgb(0,158,0)"/><stop offset="1.000" stop-color="rgb(0,172,0)"/></linearGradient>
<linearGradient id="a68" x1="0" y1="680" x2="0" y2="1140" gradientUnits="userSpaceOnUse"><stop offset="0.000" stop-color="rgb(0,98,0)"/><stop offset="0.130" stop-color="rgb(0,101,0)"/><stop offset="0.261" stop-color="rgb(0,105,0)"/><stop offset="0.391" stop-color="rgb(0,109,0)"/><stop offset="0.522" stop-color="rgb(0,116,0)"/><stop offset="0.652" stop-color="rgb(0,127,0)"/><stop offset="0.783" stop-color="rgb(0,142,0)"/><stop offset="0.913" stop-color="rgb(0,160,0)"/><stop offset="1.000" stop-color="rgb(0,174,0)"/></linearGradient>
<linearGradient id="a69" x1="0" y1="680" x2="0" y2="1140" gradientUnits="userSpaceOnUse"><stop offset="0.000" stop-color="rgb(0,97,0)"/><stop offset="0.130" stop-color="rgb(0,100,0)"/><stop offset="0.261" stop-color="rgb(0,103,0)"/><stop offset="0.391" stop-color="rgb(0,108,0)"/><stop offset="0.522" stop-color="rgb(0,115,0)"/><stop offset="0.652" stop-color="rgb(0,127,0)"/><stop offset="0.783" stop-color="rgb(0,142,0)"/><stop offset="0.913" stop-color="rgb(0,162,0)"/><stop offset="1.000" stop-color="rgb(0,177,0)"/></linearGradient>
<linearGradient id="a70" x1="0" y1="680" x2="0" y2="1140" gradientUnits="userSpaceOnUse"><stop offset="0.000" stop-color="rgb(0,95,0)"/><stop offset="0.130" stop-color="rgb(0,99,0)"/><stop offset="0.261" stop-color="rgb(0,102,0)"/><stop offset="0.391" stop-color="rgb(0,107,0)"/><stop offset="0.522" stop-color="rgb(0,115,0)"/><stop offset="0.652" stop-color="rgb(0,127,0)"/><stop offset="0.783" stop-color="rgb(0,143,0)"/><stop offset="0.913" stop-color="rgb(0,164,0)"/><stop offset="1.000" stop-color="rgb(0,179,0)"/></linearGradient>
<linearGradient id="a71" x1="0" y1="680" x2="0" y2="1140" gradientUnits="userSpaceOnUse"><stop offset="0.000" stop-color="rgb(0,93,0)"/><stop offset="0.130" stop-color="rgb(0,97,0)"/><stop offset="0.261" stop-color="rgb(0,101,0)"/><stop offset="0.391" stop-color="rgb(0,105,0)"/><stop offset="0.522" stop-color="rgb(0,114,0)"/><stop offset="0.652" stop-color="rgb(0,127,0)"/><stop offset="0.783" stop-color="rgb(0,144,0)"/><stop offset="0.913" stop-color="rgb(0,165,0)"/><stop offset="1.000" stop-color="rgb(0,182,0)"/></linearGradient>
<linearGradient id="a72" x1="0" y1="680" x2="0" y2="1140" gradientUnits="userSpaceOnUse"><stop offset="0.000" stop-color="rgb(0,92,0)"/><stop offset="0.130" stop-color="rgb(0,96,0)"/><stop offset="0.261" stop-color="rgb(0,100,0)"/><stop offset="0.391" stop-color="rgb(0,104,0)"/><stop offset="0.522" stop-color="rgb(0,114,0)"/><stop offset="0.652" stop-color="rgb(0,127,0)"/><stop offset="0.783" stop-color="rgb(0,145,0)"/><stop offset="0.913" stop-color="rgb(0,167,0)"/><stop offset="1.000" stop-color="rgb(0,184,0)"/></linearGradient>
<linearGradient id="a73" x1="0" y1="680" x2="0" y2="1140" gradientUnits="userSpaceOnUse"><stop offset="0.000" stop-color="rgb(0,90,0)"/><stop offset="0.130" stop-color="rgb(0,94,0)"/><stop offset="0.261" stop-color="rgb(0,98,0)"/><stop offset="0.391" stop-color="rgb(0,103,0)"/><stop offset="0.522" stop-color="rgb(0,113,0)"/><stop offset="0.652" stop-color="rgb(0,127,0)"/><stop offset="0.783" stop-color="rgb(0,146,0)"/><stop offset="0.913" stop-color="rgb(0,169,0)"/><stop offset="1.000" stop-color="rgb(0,187,0)"/></linearGradient>
<linearGradient id="a74" x1="0" y1="680" x2="0" y2="1140" gradientUnits="userSpaceOnUse"><stop offset="0.000" stop-color="rgb(0,89,0)"/><stop offset="0.130" stop-color="rgb(0,93,0)"/><stop offset="0.261" stop-color="rgb(0,97,0)"/><stop offset="0.391" stop-color="rgb(0,102,0)"/><stop offset="0.522" stop-color="rgb(0,112,0)"/><stop offset="0.652" stop-color="rgb(0,127,0)"/><stop offset="0.783" stop-color="rgb(0,146,0)"/><stop offset="0.913" stop-color="rgb(0,171,0)"/><stop offset="1.000" stop-color="rgb(0,189,0)"/></linearGradient>
<linearGradient id="a75" x1="0" y1="680" x2="0" y2="1140" gradientUnits="userSpaceOnUse"><stop offset="0.000" stop-color="rgb(0,87,0)"/><stop offset="0.130" stop-color="rgb(0,91,0)"/><stop offset="0.261" stop-color="rgb(0,96,0)"/><stop offset="0.391" stop-color="rgb(0,101,0)"/><stop offset="0.522" stop-color="rgb(0,112,0)"/><stop offset="0.652" stop-color="rgb(0,127,0)"/><stop offset="0.783" stop-color="rgb(0,147,0)"/><stop offset="0.913" stop-color="rgb(0,172,0)"/><stop offset="1.000" stop-color="rgb(0,192,0)"/></linearGradient>
<linearGradient id="a76" x1="0" y1="680" x2="0" y2="1140" gradientUnits="userSpaceOnUse"><stop offset="0.000" stop-color="rgb(0,85,0)"/><stop offset="0.130" stop-color="rgb(0,90,0)"/><stop offset="0.261" stop-color="rgb(0,95,0)"/><stop offset="0.391" stop-color="rgb(0,100,0)"/><stop offset="0.522" stop-color="rgb(0,111,0)"/><stop offset="0.652" stop-color="rgb(0,127,0)"/><stop offset="0.783" stop-color="rgb(0,148,0)"/><stop offset="0.913" stop-color="rgb(0,174,0)"/><stop offset="1.000" stop-color="rgb(0,194,0)"/></linearGradient>
<linearGradient id="a77" x1="0" y1="680" x2="0" y2="1140" gradientUnits="userSpaceOnUse"><stop offset="0.000" stop-color="rgb(0,84,0)"/><stop offset="0.130" stop-color="rgb(0,89,0)"/><stop offset="0.261" stop-color="rgb(0,93,0)"/><stop offset="0.391" stop-color="rgb(0,99,0)"/><stop offset="0.522" stop-color="rgb(0,110,0)"/><stop offset="0.652" stop-color="rgb(0,127,0)"/><stop offset="0.783" stop-color="rgb(0,149,0)"/><stop offset="0.913" stop-color="rgb(0,176,0)"/><stop offset="1.000" stop-color="rgb(0,197,0)"/></linearGradient>
<linearGradient id="a78" x1="0" y1="680" x2="0" y2="1140" gradientUnits="userSpaceOnUse"><stop offset="0.000" stop-color="rgb(0,82,0)"/><stop offset="0.130" stop-color="rgb(0,87,0)"/><stop offset="0.261" stop-color="rgb(0,92,0)"/><stop offset="0.391" stop-color="rgb(0,98,0)"/><stop offset="0.522" stop-color="rgb(0,110,0)"/><stop offset="0.652" stop-color="rgb(0,127,0)"/><stop offset="0.783" stop-color="rgb(0,149,0)"/><stop offset="0.913" stop-color="rgb(0,178,0)"/><stop offset="1.000" stop-color="rgb(0,200,0)"/></linearGradient>
<linearGradient id="a79" x1="0" y1="680" x2="0" y2="1140" gradientUnits="userSpaceOnUse"><stop offset="0.000" stop-color="rgb(0,81,0)"/><stop offset="0.130" stop-color="rgb(0,86,0)"/><stop offset="0.261" stop-color="rgb(0,91,0)"/><stop offset="0.391" stop-color="rgb(0,97,0)"/><stop offset="0.522" stop-color="rgb(0,109,0)"/><stop offset="0.652" stop-color="rgb(0,127,0)"/><stop offset="0.783" stop-color="rgb(0,150,0)"/><stop offset="0.913" stop-color="rgb(0,179,0)"/><stop offset="1.000" stop-color="rgb(0,202,0)"/></linearGradient>
<linearGradient id="b0" x1="0" y1="880" x2="0" y2="1330" gradientUnits="userSpaceOnUse"><stop offset="0.000" stop-color="rgb(0,240,0)"/><stop offset="0.156" stop-color="rgb(0,225,0)"/><stop offset="0.311" stop-color="rgb(0,202,0)"/><stop offset="0.467" stop-color="rgb(0,170,0)"/><stop offset="0.622" stop-color="rgb(0,131,0)"/><stop offset="0.778" stop-color="rgb(0,83,0)"/><stop offset="0.933" stop-color="rgb(0,27,0)"/><stop offset="1.000" stop-color="rgb(0,0,0)"/></linearGradient>
<linearGradient id="b1" x1="0" y1="880" x2="0" y2="1330" gradientUnits="userSpaceOnUse"><stop offset="0.000" stop-color="rgb(0,237,0)"/><stop offset="0.156" stop-color="rgb(0,222,0)"/><stop offset="0.311" stop-color="rgb(0,200,0)"/><stop offset="0.467" stop-color="rgb(0,169,0)"/><stop offset="0.622" stop-color="rgb(0,131,0)"/><stop offset="0.778" stop-color="rgb(0,84,0)"/><stop offset="0.933" stop-color="rgb(0,29,0)"/><stop offset="1.000" stop-color="rgb(0,4,0)"/></linearGradient>
<linearGradient id="b2" x1="0" y1="880" x2="0" y2="1330" gradientUnits="userSpaceOnUse"><stop offset="0.000" stop-color="rgb(0,234,0)"/><stop offset="0.156" stop-color="rgb(0,220,0)"/><stop offset="0.311" stop-color="rgb(0,198,0)"/><stop offset="0.467" stop-color="rgb(0,168,0)"/><stop offset="0.622" stop-color="rgb(0,130,0)"/><stop offset="0.778" stop-color="rgb(0,85,0)"/><stop offset="0.933" stop-color="rgb(0,32,0)"/><stop offset="1.000" stop-color="rgb(0,7,0)"/></linearGradient>
<linearGradient id="b3" x1="0" y1="880" x2="0" y2="1330" gradientUnits="userSpaceOnUse"><stop offset="0.000" stop-color="rgb(0,231,0)"/><stop offset="0.156" stop-color="rgb(0,217,0)"/><stop offset="0.311" stop-color="rgb(0,196,0)"/><stop offset="0.467" stop-color="rgb(0,167,0)"/><stop offset="0.622" stop-color="rgb(0,130,0)"/><stop offset="0.778" stop-color="rgb(0,86,0)"/><stop offset="0.933" stop-color="rgb(0,35,0)"/><stop offset="1.000" stop-color="rgb(0,10,0)"/></linearGradient>
<linearGradient id="b4" x1="0" y1="880" x2="0" y2="1330" gradientUnits="userSpaceOnUse"><stop offset="0.000" stop-color="rgb(0,228,0)"/><stop offset="0.156" stop-color="rgb(0,215,0)"/><stop offset="0.311" stop-color="rgb(0,194,0)"/><stop offset="0.467" stop-color="rgb(0,166,0)"/><stop offset="0.622" stop-color="rgb(0,130,0)"/><stop offset="0.778" stop-color="rgb(0,87,0)"/><stop offset="0.933" stop-color="rgb(0,37,0)"/><stop offset="1.000" stop-color="rgb(0,13,0)"/></linearGradient>
<linearGradient id="b5" x1="0" y1="880" x2="0" y2="1330" gradientUnits="userSpaceOnUse"><stop offset="0.000" stop-color="rgb(0,225,0)"/><stop offset="0.156" stop-color="rgb(0,212,0)"/><stop offset="0.311" stop-color="rgb(0,192,0)"/><stop offset="0.467" stop-color="rgb(0,165,0)"/><stop offset="0.622" stop-color="rgb(0,130,0)"/><stop offset="0.778" stop-color="rgb(0,89,0)"/><stop offset="0.933" stop-color="rgb(0,40,0)"/><stop offset="1.000" stop-color="rgb(0,17,0)"/></linearGradient>
<linearGradient id="b6" x1="0" y1="880" x2="0" y2="1330" gradientUnits="userSpaceOnUse"><stop offset="0.000" stop-color="rgb(0,223,0)"/><stop offset="0.156" stop-color="rgb(0,210,0)"/><stop offset="0.311" stop-color="rgb(0,190,0)"/><stop offset="0.467" stop-color="rgb(0,164,0)"/><stop offset="0.622" stop-color="rgb(0,130,0)"/><stop offset="0.778" stop-color="rgb(0,90,0)"/><stop offset="0.933" stop-color="rgb(0,42,0)"/><stop offset="1.000" stop-color="rgb(0,20,0)"/></linearGradient>
<linearGradient id="b7" x1="0" y1="880" x2="0" y2="1330" gradientUnits="userSpaceOnUse"><stop offset="0.000" stop-color="rgb(0,220,0)"/><stop offset="0.156" stop-color="rgb(0,207,0)"/><stop offset="0.311" stop-color="rgb(0,188,0)"/><stop offset="0.467" stop-color="rgb(0,163,0)"/><stop offset="0.622" stop-color="rgb(0,130,0)"/><stop offset="0.778" stop-color="rgb(0,91,0)"/><stop offset="0.933" stop-color="rgb(0,45,0)"/><stop offset="1.000" stop-color="rgb(0,23,0)"/></linearGradient>
<linearGradient id="b8" x1="0" y1="880" x2="0" y2="1330" gradientUnits="userSpaceOnUse"><stop offset="0.000" stop-color="rgb(0,217,0)"/><stop offset="0.156" stop-color="rgb(0,205,0)"/><stop offset="0.311" stop-color="rgb(0,186,0)"/><stop offset="0.467" stop-color="rgb(0,161,0)"/><stop offset="0.622" stop-color="rgb(0,130,0)"/><stop offset="0.778" stop-color="rgb(0,92,0)"/><stop offset="0.933" stop-color="rgb(0,47,0)"/><stop offset="1.000" stop-color="rgb(0,26,0)"/></linearGradient>
<linearGradient id="b9" x1="0" y1="880" x2="0" y2="1330" gradientUnits="userSpaceOnUse"><stop offset="0.000" stop-color="rgb(0,214,0)"/><stop offset="0.156" stop-color="rgb(0,202,0)"/><stop offset="0.311" stop-color="rgb(0,185,0)"/><stop offset="0.467" stop-color="rgb(0,160,0)"/><stop offset="0.622" stop-color="rgb(0,130,0)"/><stop offset="0.778" stop-color="rgb(0,93,0)"/><stop offset="0.933" stop-color="rgb(0,50,0)"/><stop offset="1.000" stop-color="rgb(0,30,0)"/></linearGradient>
<linearGradient id="b10" x1="0" y1="880" x2="0" y2="1330" gradientUnits="userSpaceOnUse"><stop offset="0.000" stop-color="rgb(0,211,0)"/><stop offset="0.156" stop-color="rgb(0,200,0)"/><stop offset="0.311" stop-color="rgb(0,183,0)"/><stop offset="0.467" stop-color="rgb(0,159,0)"/><stop offset="0.622" stop-color="rgb(0,130,0)"/><stop offset="0.778" stop-color="rgb(0,94,0)"/><stop offset="0.933" stop-color="rgb(0,53,0)"/><stop offset="1.000" stop-color="rgb(0,33,0)"/></linearGradient>
<linearGradient id="b11" x1="0" y1="880" x2="0" y2="1330" gradientUnits="userSpaceOnUse"><stop offset="0.000" stop-color="rgb(0,208,0)"/><stop offset="0.156" stop-color="rgb(0,198,0)"/><stop offset="0.311" stop-color="rgb(0,181,0)"/><stop offset="0.467" stop-color="rgb(0,158,0)"/><stop offset="0.622" stop-color="rgb(0,130,0)"/><stop offset="0.778" stop-color="rgb(0,95,0)"/><stop offset="0.933" stop-color="rgb(0,55,0)"/><stop offset="1.000" stop-color="rgb(0,36,0)"/></linearGradient>
<linearGradient id="b12" x1="0" y1="880" x2="0" y2="1330" gradientUnits="userSpaceOnUse"><stop offset="0.000" stop-color="rgb(0,205,0)"/><stop offset="0.156" stop-color="rgb(0,195,0)"/><stop offset="0.311" stop-color="rgb(0,179,0)"/><stop offset="0.467" stop-color="rgb(0,157,0)"/><stop offset="0.622" stop-color="rgb(0,130,0)"/><stop offset="0.778" stop-color="rgb(0,97,0)"/><stop offset="0.933" stop-color="rgb(0,58,0)"/><stop offset="1.000" stop-color="rgb(0,39,0)"/></linearGradient>
<linearGradient id="b13" x1="0" y1="880" x2="0" y2="1330" gradientUnits="userSpaceOnUse"><stop offset="0.000" stop-color="rgb(0,203,0)"/><stop offset="0.156" stop-color="rgb(0,193,0)"/><stop offset="0.311" stop-color="rgb(0,177,0)"/><stop offset="0.467" stop-color="rgb(0,156,0)"/><stop offset="0.622" stop-color="rgb(0,130,0)"/><stop offset="0.778" stop-color="rgb(0,98,0)"/><stop offset="0.933" stop-color="rgb(0,60,0)"/><stop offset="1.000" stop-color="rgb(0,43,0)"/></linearGradient>
<linearGradient id="b14" x1="0" y1="880" x2="0" y2="1330" gradientUnits="userSpaceOnUse"><stop offset="0.000" stop-color="rgb(0,200,0)"/><stop offset="0.156" stop-color="rgb(0,190,0)"/><stop offset="0.311" stop-color="rgb(0,175,0)"/><stop offset="0.467" stop-color="rgb(0,155,0)"/><stop offset="0.622" stop-color="rgb(0,130,0)"/><stop offset="0.778" stop-color="rgb(0,99,0)"/><stop offset="0.933" stop-color="rgb(0,63,0)"/><stop offset="1.000" stop-color="rgb(0,46,0)"/></linearGradient>
<linearGradient id="b15" x1="0" y1="880" x2="0" y2="1330" gradientUnits="userSpaceOnUse"><stop offset="0.000" stop-color="rgb(0,197,0)"/><stop offset="0.156" stop-color="rgb(0,188,0)"/><stop offset="0.311" stop-color="rgb(0,173,0)"/><stop offset="0.467" stop-color="rgb(0,154,0)"/><stop offset="0.622" stop-color="rgb(0,129,0)"/><stop offset="0.778" stop-color="rgb(0,100,0)"/><stop offset="0.933" stop-color="rgb(0,65,0)"/><stop offset="1.000" stop-color="rgb(0,49,0)"/></linearGradient>
<linearGradient id="b16" x1="0" y1="880" x2="0" y2="1330" gradientUnits="userSpaceOnUse"><stop offset="0.000" stop-color="rgb(0,194,0)"/><stop offset="0.156" stop-color="rgb(0,185,0)"/><stop offset="0.311" stop-color="rgb(0,171,0)"/><stop offset="0.467" stop-color="rgb(0,153,0)"/><stop offset="0.622" stop-color="rgb(0,129,0)"/><stop offset="0.778" stop-color="rgb(0,101,0)"/><stop offset="0.933" stop-color="rgb(0,68,0)"/><stop offset="1.000" stop-color="rgb(0,52,0)"/></linearGradient>
<linearGradient id="b17" x1="0" y1="880" x2="0" y2="1330" gradientUnits="userSpaceOnUse"><stop offset="0.000" stop-color="rgb(0,191,0)"/><stop offset="0.156" stop-color="rgb(0,183,0)"/><stop offset="0.311" stop-color="rgb(0,169,0)"/><stop offset="0.467" stop-color="rgb(0,152,0)"/><stop offset="0.622" stop-color="rgb(0,129,0)"/><stop offset="0.778" stop-color="rgb(0,102,0)"/><stop offset="0.933" stop-color="rgb(0,70,0)"/><stop offset="1.000" stop-color="rgb(0,55,0)"/></linearGradient>
<linearGradient id="b18" x1="0" y1="880" x2="0" y2="1330" gradientUnits="userSpaceOnUse"><stop offset="0.000" stop-color="rgb(0,188,0)"/><stop offset="0.156" stop-color="rgb(0,180,0)"/><stop offset="0.311" stop-color="rgb(0,168,0)"/><stop offset="0.467" stop-color="rgb(0,151,0)"/><stop offset="0.622" stop-color="rgb(0,129,0)"/><stop offset="0.778" stop-color="rgb(0,103,0)"/><stop offset="0.933" stop-color="rgb(0,73,0)"/><stop offset="1.000" stop-color="rgb(0,59,0)"/></linearGradient>
<linearGradient id="b19" x1="0" y1="880" x2="0" y2="1330" gradientUnits="userSpaceOnUse"><stop offset="0.000" stop-color="rgb(0,185,0)"/><stop offset="0.156" stop-color="rgb(0,178,0)"/><stop offset="0.311" stop-color="rgb(0,166,0)"/><stop offset="0.467" stop-color="rgb(0,150,0)"/><stop offset="0.622" stop-color="rgb(0,129,0)"/><stop offset="0.778" stop-color="rgb(0,104,0)"/><stop offset="0.933" stop-color="rgb(0,76,0)"/><stop offset="1.000" stop-color="rgb(0,62,0)"/></linearGradient>
<linearGradient id="b20" x1="0" y1="880" x2="0" y2="1330" gradientUnits="userSpaceOnUse"><stop offset="0.000" stop-color="rgb(0,183,0)"/><stop offset="0.156" stop-color="rgb(0,175,0)"/><stop offset="0.311" stop-color="rgb(0,164,0)"/><stop offset="0.467" stop-color="rgb(0,148,0)"/><stop offset="0.622" stop-color="rgb(0,129,0)"/><stop offset="0.778" stop-color="rgb(0,106,0)"/><stop offset="0.933" stop-color="rgb(0,78,0)"/><stop offset="1.000" stop-color="rgb(0,65,0)"/></linearGradient>
<linearGradient id="b21" x1="0" y1="880" x2="0" y2="1330" gradientUnits="userSpaceOnUse"><stop offset="0.000" stop-color="rgb(0,180,0)"/><stop offset="0.156" stop-color="rgb(0,173,0)"/><stop offset="0.311" stop-color="rgb(0,162,0)"/><stop offset="0.467" stop-color="rgb(0,147,0)"/><stop offset="0.622" stop-color="rgb(0,129,0)"/><stop offset="0.778" stop-color="rgb(0,107,0)"/><stop offset="0.933" stop-color="rgb(0,81,0)"/><stop offset="1.000" stop-color="rgb(0,68,0)"/></linearGradient>
<linearGradient id="b22" x1="0" y1="880" x2="0" y2="1330" gradientUnits="userSpaceOnUse"><stop offset="0.000" stop-color="rgb(0,177,0)"/><stop offset="0.156" stop-color="rgb(0,170,0)"/><stop offset="0.311" stop-color="rgb(0,160,0)"/><stop offset="0.467" stop-color="rgb(0,146,0)"/><stop offset="0.622" stop-color="rgb(0,129,0)"/><stop offset="0.778" stop-color="rgb(0,108,0)"/><stop offset="0.933" stop-color="rgb(0,83,0)"/><stop offset="1.000" stop-color="rgb(0,72,0)"/></linearGradient>
<linearGradient id="b23" x1="0" y1="880" x2="0" y2="1330" gradientUnits="userSpaceOnUse"><stop offset="0.000" stop-color="rgb(0,174,0)"/><stop offset="0.156" stop-color="rgb(0,168,0)"/><stop offset="0.311" stop-color="rgb(0,158,0)"/><stop offset="0.467" stop-color="rgb(0,145,0)"/><stop offset="0.622" stop-color="rgb(0,129,0)"/><stop offset="0.778" stop-color="rgb(0,109,0)"/><stop offset="0.933" stop-color="rgb(0,86,0)"/><stop offset="1.000" stop-color="rgb(0,75,0)"/></linearGradient>
<linearGradient id="b24" x1="0" y1="880" x2="0" y2="1330" gradientUnits="userSpaceOnUse"><stop offset="0.000" stop-color="rgb(0,171,0)"/><stop offset="0.156" stop-color="rgb(0,165,0)"/><stop offset="0.311" stop-color="rgb(0,156,0)"/><stop offset="0.467" stop-color="rgb(0,144,0)"/><stop offset="0.622" stop-color="rgb(0,129,0)"/><stop offset="0.778" stop-color="rgb(0,110,0)"/><stop offset="0.933" stop-color="rgb(0,88,0)"/><stop offset="1.000" stop-color="rgb(0,78,0)"/></linearGradient>
<linearGradient id="b25" x1="0" y1="880" x2="0" y2="1330" gradientUnits="userSpaceOnUse"><stop offset="0.000" stop-color="rgb(0,168,0)"/><stop offset="0.156" stop-color="rgb(0,163,0)"/><stop offset="0.311" stop-color="rgb(0,154,0)"/><stop offset="0.467" stop-color="rgb(0,143,0)"/><stop offset="0.622" stop-color="rgb(0,129,0)"/><stop offset="0.778" stop-color="rgb(0,111,0)"/><stop offset="0.933" stop-color="rgb(0,91,0)"/><stop offset="1.000" stop-color="rgb(0,81,0)"/></linearGradient>
<linearGradient id="b26" x1="0" y1="880" x2="0" y2="1330" gradientUnits="userSpaceOnUse"><stop offset="0.000" stop-color="rgb(0,165,0)"/><stop offset="0.156" stop-color="rgb(0,160,0)"/><stop offset="0.311" stop-color="rgb(0,153,0)"/><stop offset="0.467" stop-color="rgb(0,142,0)"/><stop offset="0.622" stop-color="rgb(0,129,0)"/><stop offset="0.778" stop-color="rgb(0,112,0)"/><stop offset="0.933" stop-color="rgb(0,94,0)"/><stop offset="1.000" stop-color="rgb(0,85,0)"/></linearGradient>
<linearGradient id="b27" x1="0" y1="880" x2="0" y2="1330" gradientUnits="userSpaceOnUse"><stop offset="0.000" stop-color="rgb(0,163,0)"/><stop offset="0.156" stop-color="rgb(0,158,0)"/><stop offset="0.311" stop-color="rgb(0,151,0)"/><stop offset="0.467" stop-color="rgb(0,141,0)"/><stop offset="0.622" stop-color="rgb(0,128,0)"/><stop offset="0.778" stop-color="rgb(0,114,0)"/><stop offset="0.933" stop-color="rgb(0,96,0)"/><stop offset="1.000" stop-color="rgb(0,88,0)"/></linearGradient>
<linearGradient id="b28" x1="0" y1="880" x2="0" y2="1330" gradientUnits="userSpaceOnUse"><stop offset="0.000" stop-color="rgb(0,160,0)"/><stop offset="0.156" stop-color="rgb(0,155,0)"/><stop offset="0.311" stop-color="rgb(0,149,0)"/><stop offset="0.467" stop-color="rgb(0,140,0)"/><stop offset="0.622" stop-color="rgb(0,128,0)"/><stop offset="0.778" stop-color="rgb(0,115,0)"/><stop offset="0.933" stop-color="rgb(0,99,0)"/><stop offset="1.000" stop-color="rgb(0,91,0)"/></linearGradient>
<linearGradient id="b29" x1="0" y1="880" x2="0" y2="1330" gradientUnits="userSpaceOnUse"><stop offset="0.000" stop-color="rgb(0,157,0)"/><stop offset="0.156" stop-color="rgb(0,153,0)"/><stop offset="0.311" stop-color="rgb(0,147,0)"/><stop offset="0.467" stop-color="rgb(0,139,0)"/><stop offset="0.622" stop-color="rgb(0,128,0)"/><stop offset="0.778" stop-color="rgb(0,116,0)"/><stop offset="0.933" stop-color="rgb(0,101,0)"/><stop offset="1.000" stop-color="rgb(0,94,0)"/></linearGradient>
<linearGradient id="b30" x1="0" y1="880" x2="0" y2="1330" gradientUnits="userSpaceOnUse"><stop offset="0.000" stop-color="rgb(0,154,0)"/><stop offset="0.156" stop-color="rgb(0,150,0)"/><stop offset="0.311" stop-color="rgb(0,145,0)"/><stop offset="0.467" stop-color="rgb(0,138,0)"/><stop offset="0.622" stop-color="rgb(0,128,0)"/><stop offset="0.778" stop-color="rgb(0,117,0)"/><stop offset="0.933" stop-color="rgb(0,104,0)"/><stop offset="1.000" stop-color="rgb(0,98,0)"/></linearGradient>
<linearGradient id="b31" x1="0" y1="880" x2="0" y2="1330" gradientUnits="userSpaceOnUse"><stop offset="0.000" stop-color="rgb(0,151,0)"/><stop offset="0.156" stop-color="rgb(0,148,0)"/><stop offset="0.311" stop-color="rgb(0,143,0)"/><stop offset="0.467" stop-color="rgb(0,136,0)"/><stop offset="0.622" stop-color="rgb(0,128,0)"/><stop offset="0.778" stop-color="rgb(0,118,0)"/><stop offset="0.933" stop-color="rgb(0,106,0)"/><stop offset="1.000" stop-color="rgb(0,101,0)"/></linearGradient>
<linearGradient id="b32" x1="0" y1="880" x2="0" y2="1330" gradientUnits="userSpaceOnUse"><stop offset="0.000" stop-color="rgb(0,148,0)"/><stop offset="0.156" stop-color="rgb(0,145,0)"/><stop offset="0.311" stop-color="rgb(0,141,0)"/><stop offset="0.467" stop-color="rgb(0,135,0)"/><stop offset="0.622" stop-color="rgb(0,128,0)"/><stop offset="0.778" stop-color="rgb(0,119,0)"/><stop offset="0.933" stop-color="rgb(0,109,0)"/><stop offset="1.000" stop-color="rgb(0,104,0)"/></linearGradient>
<linearGradient id="b33" x1="0" y1="880" x2="0" y2="1330" gradientUnits="userSpaceOnUse"><stop offset="0.000" stop-color="rgb(0,145,0)"/><stop offset="0.156" stop-color="rgb(0,143,0)"/><stop offset="0.311" stop-color="rgb(0,139,0)"/><stop offset="0.467" stop-color="rgb(0,134,0)"/><stop offset="0.622" stop-color="rgb(0,128,0)"/><stop offset="0.778" stop-color="rgb(0,120,0)"/><stop offset="0.933" stop-color="rgb(0,111,0)"/><stop offset="1.000" stop-color="rgb(0,107,0)"/></linearGradient>
<linearGradient id="b34" x1="0" y1="880" x2="0" y2="1330" gradientUnits="userSpaceOnUse"><stop offset="0.000" stop-color="rgb(0,143,0)"/><stop offset="0.156" stop-color="rgb(0,141,0)"/><stop offset="0.311" stop-color="rgb(0,137,0)"/><stop offset="0.467" stop-color="rgb(0,133,0)"/><stop offset="0.622" stop-color="rgb(0,128,0)"/><stop offset="0.778" stop-color="rgb(0,122,0)"/><stop offset="0.933" stop-color="rgb(0,114,0)"/><stop offset="1.000" stop-color="rgb(0,111,0)"/></linearGradient>
<linearGradient id="b35" x1="0" y1="880" x2="0" y2="1330" gradientUnits="userSpaceOnUse"><stop offset="0.000" stop-color="rgb(0,140,0)"/><stop offset="0.156" stop-color="rgb(0,138,0)"/><stop offset="0.311" stop-color="rgb(0,136,0)"/><stop offset="0.467" stop-color="rgb(0,132,0)"/><stop offset="0.622" stop-color="rgb(0,128,0)"/><stop offset="0.778" stop-color="rgb(0,123,0)"/><stop offset="0.933" stop-color="rgb(0,117,0)"/><stop offset="1.000" stop-color="rgb(0,114,0)"/></linearGradient>
<linearGradient id="b36" x1="0" y1="880" x2="0" y2="1330" gradientUnits="userSpaceOnUse"><stop offset="0.000" stop-color="rgb(0,137,0)"/><stop offset="0.156" stop-color="rgb(0,136,0)"/><stop offset="0.311" stop-color="rgb(0,134,0)"/><stop offset="0.467" stop-color="rgb(0,131,0)"/><stop offset="0.622" stop-color="rgb(0,128,0)"/><stop offset="0.778" stop-color="rgb(0,124,0)"/><stop offset="0.933" stop-color="rgb(0,119,0)"/><stop offset="1.000" stop-color="rgb(0,117,0)"/></linearGradient>
<linearGradient id="b37" x1="0" y1="880" x2="0" y2="1330" gradientUnits="userSpaceOnUse"><stop offset="0.000" stop-color="rgb(0,134,0)"/><stop offset="0.156" stop-color="rgb(0,133,0)"/><stop offset="0.311" stop-color="rgb(0,132,0)"/><stop offset="0.467" stop-color="rgb(0,130,0)"/><stop offset="0.622" stop-color="rgb(0,128,0)"/><stop offset="0.778" stop-color="rgb(0,125,0)"/><stop offset="0.933" stop-color="rgb(0,122,0)"/><stop offset="1.000" stop-color="rgb(0,120,0)"/></linearGradient>
<linearGradient id="b38" x1="0" y1="880" x2="0" y2="1330" gradientUnits="userSpaceOnUse"><stop offset="0.000" stop-color="rgb(0,131,0)"/><stop offset="0.156" stop-color="rgb(0,131,0)"/><stop offset="0.311" stop-color="rgb(0,130,0)"/><stop offset="0.467" stop-color="rgb(0,129,0)"/><stop offset="0.622" stop-color="rgb(0,128,0)"/><stop offset="0.778" stop-color="rgb(0,126,0)"/><stop offset="0.933" stop-color="rgb(0,124,0)"/><stop offset="1.000" stop-color="rgb(0,123,0)"/></linearGradient>
<linearGradient id="b39" x1="0" y1="880" x2="0" y2="1330" gradientUnits="userSpaceOnUse"><stop offset="0.000" stop-color="rgb(0,128,0)"/><stop offset="0.156" stop-color="rgb(0,128,0)"/><stop offset="0.311" stop-color="rgb(0,128,0)"/><stop offset="0.467" stop-color="rgb(0,128,0)"/><stop offset="0.622" stop-color="rgb(0,128,0)"/><stop offset="0.778" stop-color="rgb(0,127,0)"/><stop offset="0.933" stop-color="rgb(0,127,0)"/><stop offset="1.000" stop-color="rgb(0,127,0)"/></linearGradient>
<linearGradient id="b40" x1="0" y1="880" x2="0" y2="1330" gradientUnits="userSpaceOnUse"><stop offset="0.000" stop-color="rgb(0,125,0)"/><stop offset="0.156" stop-color="rgb(0,126,0)"/><stop offset="0.311" stop-color="rgb(0,126,0)"/><stop offset="0.467" stop-color="rgb(0,127,0)"/><stop offset="0.622" stop-color="rgb(0,127,0)"/><stop offset="0.778" stop-color="rgb(0,128,0)"/><stop offset="0.933" stop-color="rgb(0,129,0)"/><stop offset="1.000" stop-color="rgb(0,130,0)"/></linearGradient>
<linearGradient id="b41" x1="0" y1="880" x2="0" y2="1330" gradientUnits="userSpaceOnUse"><stop offset="0.000" stop-color="rgb(0,122,0)"/><stop offset="0.156" stop-color="rgb(0,123,0)"/><stop offset="0.311" stop-color="rgb(0,124,0)"/><stop offset="0.467" stop-color="rgb(0,126,0)"/><stop offset="0.622" stop-color="rgb(0,127,0)"/><stop offset="0.778" stop-color="rgb(0,129,0)"/><stop offset="0.933" stop-color="rgb(0,132,0)"/><stop offset="1.000" stop-color="rgb(0,133,0)"/></linearGradient>
<linearGradient id="b42" x1="0" y1="880" x2="0" y2="1330" gradientUnits="userSpaceOnUse"><stop offset="0.000" stop-color="rgb(0,120,0)"/><stop offset="0.156" stop-color="rgb(0,121,0)"/><stop offset="0.311" stop-color="rgb(0,122,0)"/><stop offset="0.467" stop-color="rgb(0,125,0)"/><stop offset="0.622" stop-color="rgb(0,127,0)"/><stop offset="0.778" stop-color="rgb(0,131,0)"/><stop offset="0.933" stop-color="rgb(0,135,0)"/><stop offset="1.000" stop-color="rgb(0,136,0)"/></linearGradient>
<linearGradient id="b43" x1="0" y1="880" x2="0" y2="1330" gradientUnits="userSpaceOnUse"><stop offset="0.000" stop-color="rgb(0,117,0)"/><stop offset="0.156" stop-color="rgb(0,118,0)"/><stop offset="0.311" stop-color="rgb(0,120,0)"/><stop offset="0.467" stop-color="rgb(0,123,0)"/><stop offset="0.622" stop-color="rgb(0,127,0)"/><stop offset="0.778" stop-color="rgb(0,132,0)"/><stop offset="0.933" stop-color="rgb(0,137,0)"/><stop offset="1.000" stop-color="rgb(0,140,0)"/></linearGradient>
<linearGradient id="b44" x1="0" y1="880" x2="0" y2="1330" gradientUnits="userSpaceOnUse"><stop offset="0.000" stop-color="rgb(0,114,0)"/><stop offset="0.156" stop-color="rgb(0,116,0)"/><stop offset="0.311" stop-color="rgb(0,119,0)"/><stop offset="0.467" stop-color="rgb(0,122,0)"/><stop offset="0.622" stop-color="rgb(0,127,0)"/><stop offset="0.778" stop-color="rgb(0,133,0)"/><stop offset="0.933" stop-color="rgb(0,140,0)"/><stop offset="1.000" stop-color="rgb(0,143,0)"/></linearGradient>
<linearGradient id="b45" x1="0" y1="880" x2="0" y2="1330" gradientUnits="userSpaceOnUse"><stop offset="0.000" stop-color="rgb(0,111,0)"/><stop offset="0.156" stop-color="rgb(0,113,0)"/><stop offset="0.311" stop-color="rgb(0,117,0)"/><stop offset="0.467" stop-color="rgb(0,121,0)"/><stop offset="0.622" stop-color="rgb(0,127,0)"/><stop offset="0.778" stop-color="rgb(0,134,0)"/><stop offset="0.933" stop-color="rgb(0,142,0)"/><stop offset="1.000" stop-color="rgb(0,146,0)"/></linearGradient>
<linearGradient id="b46" x1="0" y1="880" x2="0" y2="1330" gradientUnits="userSpaceOnUse"><stop offset="0.000" stop-color="rgb(0,108,0)"/><stop offset="0.156" stop-color="rgb(0,111,0)"/><stop offset="0.311" stop-color="rgb(0,115,0)"/><stop offset="0.467" stop-color="rgb(0,120,0)"/><stop offset="0.622" stop-color="rgb(0,127,0)"/><stop offset="0.778" stop-color="rgb(0,135,0)"/><stop offset="0.933" stop-color="rgb(0,145,0)"/><stop offset="1.000" stop-color="rgb(0,149,0)"/></linearGradient>
<linearGradient id="b47" x1="0" y1="880" x2="0" y2="1330" gradientUnits="userSpaceOnUse"><stop offset="0.000" stop-color="rgb(0,105,0)"/><stop offset="0.156" stop-color="rgb(0,108,0)"/><stop offset="0.311" stop-color="rgb(0,113,0)"/><stop offset="0.467" stop-color="rgb(0,119,0)"/><stop offset="0.622" stop-color="rgb(0,127,0)"/><stop offset="0.778" stop-color="rgb(0,136,0)"/><stop offset="0.933" stop-color="rgb(0,147,0)"/><stop offset="1.000" stop-color="rgb(0,153,0)"/></linearGradient>
<linearGradient id="b48" x1="0" y1="880" x2="0" y2="1330" gradientUnits="userSpaceOnUse"><stop offset="0.000" stop-color="rgb(0,102,0)"/><stop offset="0.156" stop-color="rgb(0,106,0)"/><stop offset="0.311" stop-color="rgb(0,111,0)"/><stop offset="0.467" stop-color="rgb(0,118,0)"/><stop offset="0.622" stop-color="rgb(0,127,0)"/><stop offset="0.778" stop-color="rgb(0,137,0)"/><stop offset="0.933" stop-color="rgb(0,150,0)"/><stop offset="1.000" stop-color="rgb(0,156,0)"/></linearGradient>
<linearGradient id="b49" x1="0" y1="880" x2="0" y2="1330" gradientUnits="userSpaceOnUse"><stop offset="0.000" stop-color="rgb(0,100,0)"/><stop offset="0.156" stop-color="rgb(0,103,0)"/><stop offset="0.311" stop-color="rgb(0,109,0)"/><stop offset="0.467" stop-color="rgb(0,117,0)"/><stop offset="0.622" stop-color="rgb(0,127,0)"/><stop offset="0.778" stop-color="rgb(0,139,0)"/><stop offset="0.933" stop-color="rgb(0,152,0)"/><stop offset="1.000" stop-color="rgb(0,159,0)"/></linearGradient>
<linearGradient id="b50" x1="0" y1="880" x2="0" y2="1330" gradientUnits="userSpaceOnUse"><stop offset="0.000" stop-color="rgb(0,97,0)"/><stop offset="0.156" stop-color="rgb(0,101,0)"/><stop offset="0.311" stop-color="rgb(0,107,0)"/><stop offset="0.467" stop-color="rgb(0,116,0)"/><stop offset="0.622" stop-color="rgb(0,127,0)"/><stop offset="0.778" stop-color="rgb(0,140,0)"/><stop offset="0.933" stop-color="rgb(0,155,0)"/><stop offset="1.000" stop-color="rgb(0,162,0)"/></linearGradient>
<linearGradient id="b51" x1="0" y1="880" x2="0" y2="1330" gradientUnits="userSpaceOnUse"><stop offset="0.000" stop-color="rgb(0,94,0)"/><stop offset="0.156" stop-color="rgb(0,98,0)"/><stop offset="0.311" stop-color="rgb(0,105,0)"/><stop offset="0.467" stop-color="rgb(0,115,0)"/><stop offset="0.622" stop-color="rgb(0,127,0)"/><stop offset="0.778" stop-color="rgb(0,141,0)"/><stop offset="0.933" stop-color="rgb(0,158,0)"/><stop offset="1.000" stop-color="rgb(0,166,0)"/></linearGradient>
<linearGradient id="b52" x1="0" y1="880" x2="0" y2="1330" gradientUnits="userSpaceOnUse"><stop offset="0.000" stop-color="rgb(0,91,0)"/><stop offset="0.156" stop-color="rgb(0,96,0)"/><stop offset="0.311" stop-color="rgb(0,103,0)"/><stop offset="0.467" stop-color="rgb(0,114,0)"/><stop offset="0.622" stop-color="rgb(0,126,0)"/><stop offset="0.778" stop-color="rgb(0,142,0)"/><stop offset="0.933" stop-color="rgb(0,160,0)"/><stop offset="1.000" stop-color="rgb(0,169,0)"/></linearGradient>
<linearGradient id="b53" x1="0" y1="880" x2="0" y2="1330" gradientUnits="userSpaceOnUse"><stop offset="0.000" stop-color="rgb(0,88,0)"/><stop offset="0.156" stop-color="rgb(0,93,0)"/><stop offset="0.311" stop-color="rgb(0,102,0)"/><stop offset="0.467" stop-color="rgb(0,113,0)"/><stop offset="0.622" stop-color="rgb(0,126,0)"/><stop offset="0.778" stop-color="rgb(0,143,0)"/><stop offset="0.933" stop-color="rgb(0,163,0)"/><stop offset="1.000" stop-color="rgb(0,172,0)"/></linearGradient>
<linearGradient id="b54" x1="0" y1="880" x2="0" y2="1330" gradientUnits="userSpaceOnUse"><stop offset="0.000" stop-color="rgb(0,85,0)"/><stop offset="0.156" stop-color="rgb(0,91,0)"/><stop offset="0.311" stop-color="rgb(0,100,0)"/><stop offset="0.467" stop-color="rgb(0,111,0)"/><stop offset="0.622" stop-color="rgb(0,126,0)"/><stop offset="0.778" stop-color="rgb(0,144,0)"/><stop offset="0.933" stop-color="rgb(0,165,0)"/><stop offset="1.000" stop-color="rgb(0,175,0)"/></linearGradient>
<linearGradient id="b55" x1="0" y1="880" x2="0" y2="1330" gradientUnits="userSpaceOnUse"><stop offset="0.000" stop-color="rgb(0,82,0)"/><stop offset="0.156" stop-color="rgb(0,88,0)"/><stop offset="0.311" stop-color="rgb(0,98,0)"/><stop offset="0.467" stop-color="rgb(0,110,0)"/><stop offset="0.622" stop-color="rgb(0,126,0)"/><stop offset="0.778" stop-color="rgb(0,145,0)"/><stop offset="0.933" stop-color="rgb(0,168,0)"/><stop offset="1.000" stop-color="rgb(0,178,0)"/></linearGradient>
<linearGradient id="b56" x1="0" y1="880" x2="0" y2="1330" gradientUnits="userSpaceOnUse"><stop offset="0.000" stop-color="rgb(0,80,0)"/><stop offset="0.156" stop-color="rgb(0,86,0)"/><stop offset="0.311" stop-color="rgb(0,96,0)"/><stop offset="0.467" stop-color="rgb(0,109,0)"/><stop offset="0.622" stop-color="rgb(0,126,0)"/><stop offset="0.778" stop-color="rgb(0,147,0)"/><stop offset="0.933" stop-color="rgb(0,170,0)"/><stop offset="1.000" stop-color="rgb(0,182,0)"/></linearGradient>
<linearGradient id="b57" x1="0" y1="880" x2="0" y2="1330" gradientUnits="userSpaceOnUse"><stop offset="0.000" stop-color="rgb(0,77,0)"/><stop offset="0.156" stop-color="rgb(0,84,0)"/><stop offset="0.311" stop-color="rgb(0,94,0)"/><stop offset="0.467" stop-color="rgb(0,108,0)"/><stop offset="0.622" stop-color="rgb(0,126,0)"/><stop offset="0.778" stop-color="rgb(0,148,0)"/><stop offset="0.933" stop-color="rgb(0,173,0)"/><stop offset="1.000" stop-color="rgb(0,185,0)"/></linearGradient>
<linearGradient id="b58" x1="0" y1="880" x2="0" y2="1330" gradientUnits="userSpaceOnUse"><stop offset="0.000" stop-color="rgb(0,74,0)"/><stop offset="0.156" stop-color="rgb(0,81,0)"/><stop offset="0.311" stop-color="rgb(0,92,0)"/><stop offset="0.467" stop-color="rgb(0,107,0)"/><stop offset="0.622" stop-color="rgb(0,126,0)"/><stop offset="0.778" stop-color="rgb(0,149,0)"/><stop offset="0.933" stop-color="rgb(0,176,0)"/><stop offset="1.000" stop-color="rgb(0,188,0)"/></linearGradient>
<linearGradient id="b59" x1="0" y1="880" x2="0" y2="1330" gradientUnits="userSpaceOnUse"><stop offset="0.000" stop-color="rgb(0,71,0)"/><stop offset="0.156" stop-color="rgb(0,79,0)"/><stop offset="0.311" stop-color="rgb(0,90,0)"/><stop offset="0.467" stop-color="rgb(0,106,0)"/><stop offset="0.622" stop-color="rgb(0,126,0)"/><stop offset="0.778" stop-color="rgb(0,150,0)"/><stop offset="0.933" stop-color="rgb(0,178,0)"/><stop offset="1.000" stop-color="rgb(0,191,0)"/></linearGradient>
<linearGradient id="b60" x1="0" y1="880" x2="0" y2="1330" gradientUnits="userSpaceOnUse"><stop offset="0.000" stop-color="rgb(0,68,0)"/><stop offset="0.156" stop-color="rgb(0,76,0)"/><stop offset="0.311" stop-color="rgb(0,88,0)"/><stop offset="0.467" stop-color="rgb(0,105,0)"/><stop offset="0.622" stop-color="rgb(0,126,0)"/><stop offset="0.778" stop-color="rgb(0,151,0)"/><stop offset="0.933" stop-color="rgb(0,181,0)"/><stop offset="1.000" stop-color="rgb(0,195,0)"/></linearGradient>
<linearGradient id="b61" x1="0" y1="880" x2="0" y2="1330" gradientUnits="userSpaceOnUse"><stop offset="0.000" stop-color="rgb(0,65,0)"/><stop offset="0.156" stop-color="rgb(0,74,0)"/><stop offset="0.311" stop-color="rgb(0,86,0)"/><stop offset="0.467" stop-color="rgb(0,104,0)"/><stop offset="0.622" stop-color="rgb(0,126,0)"/><stop offset="0.778" stop-color="rgb(0,152,0)"/><stop offset="0.933" stop-color="rgb(0,183,0)"/><stop offset="1.000" stop-color="rgb(0,198,0)"/></linearGradient>
<linearGradient id="b62" x1="0" y1="880" x2="0" y2="1330" gradientUnits="userSpaceOnUse"><stop offset="0.000" stop-color="rgb(0,62,0)"/><stop offset="0.156" stop-color="rgb(0,71,0)"/><stop offset="0.311" stop-color="rgb(0,85,0)"/><stop offset="0.467" stop-color="rgb(0,103,0)"/><stop offset="0.622" stop-color="rgb(0,126,0)"/><stop offset="0.778" stop-color="rgb(0,153,0)"/><stop offset="0.933" stop-color="rgb(0,186,0)"/><stop offset="1.000" stop-color="rgb(0,201,0)"/></linearGradient>
<linearGradient id="b63" x1="0" y1="880" x2="0" y2="1330" gradientUnits="userSpaceOnUse"><stop offset="0.000" stop-color="rgb(0,60,0)"/><stop offset="0.156" stop-color="rgb(0,69,0)"/><stop offset="0.311" stop-color="rgb(0,83,0)"/><stop offset="0.467" stop-color="rgb(0,102,0)"/><stop offset="0.622" stop-color="rgb(0,126,0)"/><stop offset="0.778" stop-color="rgb(0,155,0)"/><stop offset="0.933" stop-color="rgb(0,188,0)"/><stop offset="1.000" stop-color="rgb(0,204,0)"/></linearGradient>
<linearGradient id="b64" x1="0" y1="880" x2="0" y2="1330" gradientUnits="userSpaceOnUse"><stop offset="0.000" stop-color="rgb(0,57,0)"/><stop offset="0.156" stop-color="rgb(0,66,0)"/><stop offset="0.311" stop-color="rgb(0,81,0)"/><stop offset="0.467" stop-color="rgb(0,101,0)"/><stop offset="0.622" stop-color="rgb(0,126,0)"/><stop offset="0.778" stop-color="rgb(0,156,0)"/><stop offset="0.933" stop-color="rgb(0,191,0)"/><stop offset="1.000" stop-color="rgb(0,208,0)"/></linearGradient>
<linearGradient id="b65" x1="0" y1="880" x2="0" y2="1330" gradientUnits="userSpaceOnUse"><stop offset="0.000" stop-color="rgb(0,54,0)"/><stop offset="0.156" stop-color="rgb(0,64,0)"/><stop offset="0.311" stop-color="rgb(0,79,0)"/><stop offset="0.467" stop-color="rgb(0,99,0)"/><stop offset="0.622" stop-color="rgb(0,125,0)"/><stop offset="0.778" stop-color="rgb(0,157,0)"/><stop offset="0.933" stop-color="rgb(0,193,0)"/><stop offset="1.000" stop-color="rgb(0,211,0)"/></linearGradient>
<linearGradient id="b66" x1="0" y1="880" x2="0" y2="1330" gradientUnits="userSpaceOnUse"><stop offset="0.000" stop-color="rgb(0,51,0)"/><stop offset="0.156" stop-color="rgb(0,61,0)"/><stop offset="0.311" stop-color="rgb(0,77,0)"/><stop offset="0.467" stop-color="rgb(0,98,0)"/><stop offset="0.622" stop-color="rgb(0,125,0)"/><stop offset="0.778" stop-color="rgb(0,158,0)"/><stop offset="0.933" stop-color="rgb(0,196,0)"/><stop offset="1.000" stop-color="rgb(0,214,0)"/></linearGradient>
<linearGradient id="b67" x1="0" y1="880" x2="0" y2="1330" gradientUnits="userSpaceOnUse"><stop offset="0.000" stop-color="rgb(0,48,0)"/><stop offset="0.156" stop-color="rgb(0,59,0)"/><stop offset="0.311" stop-color="rgb(0,75,0)"/><stop offset="0.467" stop-color="rgb(0,97,0)"/><stop offset="0.622" stop-color="rgb(0,125,0)"/><stop offset="0.778" stop-color="rgb(0,159,0)"/><stop offset="0.933" stop-color="rgb(0,199,0)"/><stop offset="1.000" stop-color="rgb(0,217,0)"/></linearGradient>
<linearGradient id="b68" x1="0" y1="880" x2="0" y2="1330" gradientUnits="userSpaceOnUse"><stop offset="0.000" stop-color="rgb(0,45,0)"/><stop offset="0.156" stop-color="rgb(0,56,0)"/><stop offset="0.311" stop-color="rgb(0,73,0)"/><stop offset="0.467" stop-color="rgb(0,96,0)"/><stop offset="0.622" stop-color="rgb(0,125,0)"/><stop offset="0.778" stop-color="rgb(0,160,0)"/><stop offset="0.933" stop-color="rgb(0,201,0)"/><stop offset="1.000" stop-color="rgb(0,221,0)"/></linearGradient>
<linearGradient id="b69" x1="0" y1="880" x2="0" y2="1330" gradientUnits="userSpaceOnUse"><stop offset="0.000" stop-color="rgb(0,42,0)"/><stop offset="0.156" stop-color="rgb(0,54,0)"/><stop offset="0.311" stop-color="rgb(0,71,0)"/><stop offset="0.467" stop-color="rgb(0,95,0)"/><stop offset="0.622" stop-color="rgb(0,125,0)"/><stop offset="0.778" stop-color="rgb(0,161,0)"/><stop offset="0.933" stop-color="rgb(0,204,0)"/><stop offset="1.000" stop-color="rgb(0,224,0)"/></linearGradient>
<linearGradient id="b70" x1="0" y1="880" x2="0" y2="1330" gradientUnits="userSpaceOnUse"><stop offset="0.000" stop-color="rgb(0,40,0)"/><stop offset="0.156" stop-color="rgb(0,51,0)"/><stop offset="0.311" stop-color="rgb(0,69,0)"/><stop offset="0.467" stop-color="rgb(0,94,0)"/><stop offset="0.622" stop-color="rgb(0,125,0)"/><stop offset="0.778" stop-color="rgb(0,162,0)"/><stop offset="0.933" stop-color="rgb(0,206,0)"/><stop offset="1.000" stop-color="rgb(0,227,0)"/></linearGradient>
<linearGradient id="b71" x1="0" y1="880" x2="0" y2="1330" gradientUnits="userSpaceOnUse"><stop offset="0.000" stop-color="rgb(0,37,0)"/><stop offset="0.156" stop-color="rgb(0,49,0)"/><stop offset="0.311" stop-color="rgb(0,68,0)"/><stop offset="0.467" stop-color="rgb(0,93,0)"/><stop offset="0.622" stop-color="rgb(0,125,0)"/><stop offset="0.778" stop-color="rgb(0,164,0)"/><stop offset="0.933" stop-color="rgb(0,209,0)"/><stop offset="1.000" stop-color="rgb(0,230,0)"/></linearGradient>
<linearGradient id="b72" x1="0" y1="880" x2="0" y2="1330" gradientUnits="userSpaceOnUse"><stop offset="0.000" stop-color="rgb(0,34,0)"/><stop offset="0.156" stop-color="rgb(0,46,0)"/><stop offset="0.311" stop-color="rgb(0,66,0)"/><stop offset="0.467" stop-color="rgb(0,92,0)"/><stop offset="0.622" stop-color="rgb(0,125,0)"/><stop offset="0.778" stop-color="rgb(0,165,0)"/><stop offset="0.933" stop-color="rgb(0,211,0)"/><stop offset="1.000" stop-color="rgb(0,234,0)"/></linearGradient>
<linearGradient id="b73" x1="0" y1="880" x2="0" y2="1330" gradientUnits="userSpaceOnUse"><stop offset="0.000" stop-color="rgb(0,31,0)"/><stop offset="0.156" stop-color="rgb(0,44,0)"/><stop offset="0.311" stop-color="rgb(0,64,0)"/><stop offset="0.467" stop-color="rgb(0,91,0)"/><stop offset="0.622" stop-color="rgb(0,125,0)"/><stop offset="0.778" stop-color="rgb(0,166,0)"/><stop offset="0.933" stop-color="rgb(0,214,0)"/><stop offset="1.000" stop-color="rgb(0,237,0)"/></linearGradient>
<linearGradient id="b74" x1="0" y1="880" x2="0" y2="1330" gradientUnits="userSpaceOnUse"><stop offset="0.000" stop-color="rgb(0,28,0)"/><stop offset="0.156" stop-color="rgb(0,41,0)"/><stop offset="0.311" stop-color="rgb(0,62,0)"/><stop offset="0.467" stop-color="rgb(0,90,0)"/><stop offset="0.622" stop-color="rgb(0,125,0)"/><stop offset="0.778" stop-color="rgb(0,167,0)"/><stop offset="0.933" stop-color="rgb(0,217,0)"/><stop offset="1.000" stop-color="rgb(0,240,0)"/></linearGradient>
<linearGradient id="b75" x1="0" y1="880" x2="0" y2="1330" gradientUnits="userSpaceOnUse"><stop offset="0.000" stop-color="rgb(0,25,0)"/><stop offset="0.156" stop-color="rgb(0,39,0)"/><stop offset="0.311" stop-color="rgb(0,60,0)"/><stop offset="0.467" stop-color="rgb(0,89,0)"/><stop offset="0.622" stop-color="rgb(0,125,0)"/><stop offset="0.778" stop-color="rgb(0,168,0)"/><stop offset="0.933" stop-color="rgb(0,219,0)"/><stop offset="1.000" stop-color="rgb(0,243,0)"/></linearGradient>
<linearGradient id="b76" x1="0" y1="880" x2="0" y2="1330" gradientUnits="userSpaceOnUse"><stop offset="0.000" stop-color="rgb(0,22,0)"/><stop offset="0.156" stop-color="rgb(0,36,0)"/><stop offset="0.311" stop-color="rgb(0,58,0)"/><stop offset="0.467" stop-color="rgb(0,88,0)"/><stop offset="0.622" stop-color="rgb(0,125,0)"/><stop offset="0.778" stop-color="rgb(0,169,0)"/><stop offset="0.933" stop-color="rgb(0,222,0)"/><stop offset="1.000" stop-color="rgb(0,246,0)"/></linearGradient>
<linearGradient id="b77" x1="0" y1="880" x2="0" y2="1330" gradientUnits="userSpaceOnUse"><stop offset="0.000" stop-color="rgb(0,19,0)"/><stop offset="0.156" stop-color="rgb(0,34,0)"/><stop offset="0.311" stop-color="rgb(0,56,0)"/><stop offset="0.467" stop-color="rgb(0,86,0)"/><stop offset="0.622" stop-color="rgb(0,124,0)"/><stop offset="0.778" stop-color="rgb(0,170,0)"/><stop offset="0.933" stop-color="rgb(0,224,0)"/><stop offset="1.000" stop-color="rgb(0,250,0)"/></linearGradient>
<linearGradient id="b78" x1="0" y1="880" x2="0" y2="1330" gradientUnits="userSpaceOnUse"><stop offset="0.000" stop-color="rgb(0,17,0)"/><stop offset="0.156" stop-color="rgb(0,31,0)"/><stop offset="0.311" stop-color="rgb(0,54,0)"/><stop offset="0.467" stop-color="rgb(0,85,0)"/><stop offset="0.622" stop-color="rgb(0,124,0)"/><stop offset="0.778" stop-color="rgb(0,172,0)"/><stop offset="0.933" stop-color="rgb(0,227,0)"/><stop offset="1.000" stop-color="rgb(0,253,0)"/></linearGradient>
<linearGradient id="b79" x1="0" y1="880" x2="0" y2="1330" gradientUnits="userSpaceOnUse"><stop offset="0.000" stop-color="rgb(0,14,0)"/><stop offset="0.156" stop-color="rgb(0,29,0)"/><stop offset="0.311" stop-color="rgb(0,52,0)"/><stop offset="0.467" stop-color="rgb(0,84,0)"/><stop offset="0.622" stop-color="rgb(0,124,0)"/><stop offset="0.778" stop-color="rgb(0,173,0)"/><stop offset="0.933" stop-color="rgb(0,229,0)"/><stop offset="1.000" stop-color="rgb(0,255,0)"/></linearGradient>
<linearGradient id="lowg" x1="0" y1="600" x2="0" y2="1330" gradientUnits="userSpaceOnUse"><stop offset="0" stop-color="rgb(118,0,128)"/><stop offset="0.616" stop-color="rgb(116,0,128)"/><stop offset="0.795" stop-color="rgb(126,0,128)"/><stop offset="1" stop-color="rgb(137,0,128)"/></linearGradient>
<clipPath id="midclip"><path d="M470 730 L905 730 L905 1010 L470 1010 Z"/></clipPath>
<linearGradient id="cb" x1="0" y1="1" x2="0" y2="0">
<stop offset="0" stop-color="rgb(0, 0, 0)"/><stop offset="0.1" stop-color="rgb(0, 0, 32)"/><stop offset="0.2" stop-color="rgb(0, 4, 72)"/><stop offset="0.3" stop-color="rgb(0, 8, 108)"/><stop offset="0.38" stop-color="rgb(0, 14, 136)"/><stop offset="0.45" stop-color="rgb(0, 40, 168)"/><stop offset="0.52" stop-color="rgb(4, 68, 188)"/><stop offset="0.6" stop-color="rgb(6, 98, 214)"/><stop offset="0.68" stop-color="rgb(10, 120, 236)"/><stop offset="0.75" stop-color="rgb(26, 142, 255)"/><stop offset="0.8" stop-color="rgb(56, 162, 255)"/><stop offset="0.86" stop-color="rgb(128, 200, 255)"/><stop offset="0.92" stop-color="rgb(192, 228, 255)"/><stop offset="1.0" stop-color="rgb(248, 252, 255)"/>
</linearGradient>
</defs>
<rect x="0" y="0" width="1447" height="1384" fill="#fff"/>
<rect x="79" y="75" width="1234" height="1234" fill="#000"/>
<g clip-path="url(#dc)">
<g filter="url(#fL)">
<rect x="60" y="600" width="1280" height="730" fill="url(#lowg)"/>
<path d="M60.0 600.0 L1340.0 600.0 L1340.0 880.0 L1300.0 880.0 L1200.0 920.0 L1100.0 900.0 L1000.0 900.0 L900.0 930.0 L800.0 940.0 L745.0 1000.0 L690.0 1000.0 L600.0 935.0 L480.0 935.0 L420.0 940.0 L300.0 980.0 L85.0 1000.0 L60.0 1000.0 Z" fill="rgb(131,0,128)"/>
<path d="M60.0 985.0 L300.0 965.0 L420.0 928.0 L600.0 925.0 L690.0 990.0 L745.0 990.0 L800.0 930.0 L900.0 920.0 L1000.0 890.0 L1100.0 890.0 L1200.0 910.0 L1340.0 870.0 L1340.0 930.0 L1200.0 965.0 L1100.0 950.0 L1000.0 955.0 L900.0 985.0 L800.0 1000.0 L745.0 1040.0 L690.0 1040.0 L600.0 995.0 L420.0 995.0 L300.0 1030.0 L60.0 1040.0 Z" fill="rgb(105,0,128)"/>
<path d="M478.0 740.0 L790.0 736.0 L800.0 930.0 L740.0 945.0 L690.0 945.0 L600.0 925.0 L478.0 925.0 Z" fill="rgb(156,0,92)"/>
<path d="M690.0 915.0 L745.0 915.0 L745.0 995.0 L700.0 1000.0 L690.0 990.0 Z" fill="rgb(163,0,128)"/>
<path d="M985.0 700.0 L1340.0 700.0 L1340.0 880.0 L1300.0 880.0 L1200.0 920.0 L1100.0 900.0 L985.0 900.0 Z" fill="rgb(128,0,133)"/>
<path d="M40.0 736.0 L79.0 736.0 L150.0 732.0 L224.0 728.0 L300.0 725.0 L370.0 722.0 L430.0 720.0 L498.0 718.0 L560.0 716.0 L620.0 714.0 L700.0 710.0 L780.0 709.0 L850.0 708.0 L920.0 706.0 L1000.0 703.0 L1080.0 701.0 L1150.0 699.0 L1230.0 694.0 L1313.0 686.0 L1360.0 686.0 L1360.0 730.0 L1313.0 730.0 L1230.0 738.0 L1150.0 743.0 L1080.0 745.0 L1000.0 747.0 L920.0 750.0 L850.0 752.0 L780.0 753.0 L700.0 754.0 L620.0 758.0 L560.0 760.0 L498.0 762.0 L430.0 764.0 L370.0 766.0 L300.0 769.0 L224.0 772.0 L150.0 776.0 L79.0 780.0 L40.0 780.0 Z" fill="rgb(96,0,230)"/>
<ellipse cx="443" cy="840" rx="44" ry="100" transform="rotate(-8 443 840)" fill="rgb(163,0,204)"/>
<ellipse cx="443" cy="840" rx="26" ry="90" transform="rotate(-8 443 840)" fill="rgb(255,0,204)"/>
<path d="M845.0 738.0 L978.0 736.0 L978.0 860.0 L880.0 915.0 L800.0 935.0 L790.0 880.0 L810.0 800.0 Z" fill="rgb(188,0,204)"/>
<path d="M868.0 742.0 L972.0 740.0 L972.0 845.0 L900.0 868.0 L868.0 850.0 Z" fill="rgb(255,0,204)"/>
<ellipse cx="1210" cy="865" rx="60" ry="35" fill="rgb(135,0,128)"/>
<ellipse cx="368" cy="835" rx="26" ry="80" transform="rotate(-8 368 835)" fill="rgb(120,0,140)"/>
<ellipse cx="698" cy="734" rx="70" ry="52" fill="rgb(51,0,128)"/>
<rect x="60" y="880" width="16" height="450" fill="url(#b0)" style="mix-blend-mode:lighten"/>
<rect x="76" y="880" width="16" height="450" fill="url(#b1)" style="mix-blend-mode:lighten"/>
<rect x="92" y="880" width="16" height="450" fill="url(#b2)" style="mix-blend-mode:lighten"/>
<rect x="108" y="880" width="16" height="450" fill="url(#b3)" style="mix-blend-mode:lighten"/>
<rect x="124" y="880" width="16" height="450" fill="url(#b4)" style="mix-blend-mode:lighten"/>
<rect x="140" y="880" width="16" height="450" fill="url(#b5)" style="mix-blend-mode:lighten"/>
<rect x="156" y="880" width="16" height="450" fill="url(#b6)" style="mix-blend-mode:lighten"/>
<rect x="172" y="880" width="16" height="450" fill="url(#b7)" style="mix-blend-mode:lighten"/>
<rect x="188" y="880" width="16" height="450" fill="url(#b8)" style="mix-blend-mode:lighten"/>
<rect x="204" y="880" width="16" height="450" fill="url(#b9)" style="mix-blend-mode:lighten"/>
<rect x="220" y="880" width="16" height="450" fill="url(#b10)" style="mix-blend-mode:lighten"/>
<rect x="236" y="880" width="16" height="450" fill="url(#b11)" style="mix-blend-mode:lighten"/>
<rect x="252" y="880" width="16" height="450" fill="url(#b12)" style="mix-blend-mode:lighten"/>
<rect x="268" y="880" width="16" height="450" fill="url(#b13)" style="mix-blend-mode:lighten"/>
<rect x="284" y="880" width="16" height="450" fill="url(#b14)" style="mix-blend-mode:lighten"/>
<rect x="300" y="880" width="16" height="450" fill="url(#b15)" style="mix-blend-mode:lighten"/>
<rect x="316" y="880" width="16" height="450" fill="url(#b16)" style="mix-blend-mode:lighten"/>
<rect x="332" y="880" width="16" height="450" fill="url(#b17)" style="mix-blend-mode:lighten"/>
<rect x="348" y="880" width="16" height="450" fill="url(#b18)" style="mix-blend-mode:lighten"/>
<rect x="364" y="880" width="16" height="450" fill="url(#b19)" style="mix-blend-mode:lighten"/>
<rect x="380" y="880" width="16" height="450" fill="url(#b20)" style="mix-blend-mode:lighten"/>
<rect x="396" y="880" width="16" height="450" fill="url(#b21)" style="mix-blend-mode:lighten"/>
<rect x="412" y="880" width="16" height="450" fill="url(#b22)" style="mix-blend-mode:lighten"/>
<rect x="428" y="880" width="16" height="450" fill="url(#b23)" style="mix-blend-mode:lighten"/>
<rect x="444" y="880" width="16" height="450" fill="url(#b24)" style="mix-blend-mode:lighten"/>
<rect x="460" y="880" width="16" height="450" fill="url(#b25)" style="mix-blend-mode:lighten"/>
<rect x="476" y="880" width="16" height="450" fill="url(#b26)" style="mix-blend-mode:lighten"/>
<rect x="492" y="880" width="16" height="450" fill="url(#b27)" style="mix-blend-mode:lighten"/>
<rect x="508" y="880" width="16" height="450" fill="url(#b28)" style="mix-blend-mode:lighten"/>
<rect x="524" y="880" width="16" height="450" fill="url(#b29)" style="mix-blend-mode:lighten"/>
<rect x="540" y="880" width="16" height="450" fill="url(#b30)" style="mix-blend-mode:lighten"/>
<rect x="556" y="880" width="16" height="450" fill="url(#b31)" style="mix-blend-mode:lighten"/>
<rect x="572" y="880" width="16" height="450" fill="url(#b32)" style="mix-blend-mode:lighten"/>
<rect x="588" y="880" width="16" height="450" fill="url(#b33)" style="mix-blend-mode:lighten"/>
<rect x="604" y="880" width="16" height="450" fill="url(#b34)" style="mix-blend-mode:lighten"/>
<rect x="620" y="880" width="16" height="450" fill="url(#b35)" style="mix-blend-mode:lighten"/>
<rect x="636" y="880" width="16" height="450" fill="url(#b36)" style="mix-blend-mode:lighten"/>
<rect x="652" y="880" width="16" height="450" fill="url(#b37)" style="mix-blend-mode:lighten"/>
<rect x="668" y="880" width="16" height="450" fill="url(#b38)" style="mix-blend-mode:lighten"/>
<rect x="684" y="880" width="16" height="450" fill="url(#b39)" style="mix-blend-mode:lighten"/>
<rect x="700" y="880" width="16" height="450" fill="url(#b40)" style="mix-blend-mode:lighten"/>
<rect x="716" y="880" width="16" height="450" fill="url(#b41)" style="mix-blend-mode:lighten"/>
<rect x="732" y="880" width="16" height="450" fill="url(#b42)" style="mix-blend-mode:lighten"/>
<rect x="748" y="880" width="16" height="450" fill="url(#b43)" style="mix-blend-mode:lighten"/>
<rect x="764" y="880" width="16" height="450" fill="url(#b44)" style="mix-blend-mode:lighten"/>
<rect x="780" y="880" width="16" height="450" fill="url(#b45)" style="mix-blend-mode:lighten"/>
<rect x="796" y="880" width="16" height="450" fill="url(#b46)" style="mix-blend-mode:lighten"/>
<rect x="812" y="880" width="16" height="450" fill="url(#b47)" style="mix-blend-mode:lighten"/>
<rect x="828" y="880" width="16" height="450" fill="url(#b48)" style="mix-blend-mode:lighten"/>
<rect x="844" y="880" width="16" height="450" fill="url(#b49)" style="mix-blend-mode:lighten"/>
<rect x="860" y="880" width="16" height="450" fill="url(#b50)" style="mix-blend-mode:lighten"/>
<rect x="876" y="880" width="16" height="450" fill="url(#b51)" style="mix-blend-mode:lighten"/>
<rect x="892" y="880" width="16" height="450" fill="url(#b52)" style="mix-blend-mode:lighten"/>
<rect x="908" y="880" width="16" height="450" fill="url(#b53)" style="mix-blend-mode:lighten"/>
<rect x="924" y="880" width="16" height="450" fill="url(#b54)" style="mix-blend-mode:lighten"/>
<rect x="940" y="880" width="16" height="450" fill="url(#b55)" style="mix-blend-mode:lighten"/>
<rect x="956" y="880" width="16" height="450" fill="url(#b56)" style="mix-blend-mode:lighten"/>
<rect x="972" y="880" width="16" height="450" fill="url(#b57)" style="mix-blend-mode:lighten"/>
<rect x="988" y="880" width="16" height="450" fill="url(#b58)" style="mix-blend-mode:lighten"/>
<rect x="1004" y="880" width="16" height="450" fill="url(#b59)" style="mix-blend-mode:lighten"/>
<rect x="1020" y="880" width="16" height="450" fill="url(#b60)" style="mix-blend-mode:lighten"/>
<rect x="1036" y="880" width="16" height="450" fill="url(#b61)" style="mix-blend-mode:lighten"/>
<rect x="1052" y="880" width="16" height="450" fill="url(#b62)" style="mix-blend-mode:lighten"/>
<rect x="1068" y="880" width="16" height="450" fill="url(#b63)" style="mix-blend-mode:lighten"/>
<rect x="1084" y="880" width="16" height="450" fill="url(#b64)" style="mix-blend-mode:lighten"/>
<rect x="1100" y="880" width="16" height="450" fill="url(#b65)" style="mix-blend-mode:lighten"/>
<rect x="1116" y="880" width="16" height="450" fill="url(#b66)" style="mix-blend-mode:lighten"/>
<rect x="1132" y="880" width="16" height="450" fill="url(#b67)" style="mix-blend-mode:lighten"/>
<rect x="1148" y="880" width="16" height="450" fill="url(#b68)" style="mix-blend-mode:lighten"/>
<rect x="1164" y="880" width="16" height="450" fill="url(#b69)" style="mix-blend-mode:lighten"/>
<rect x="1180" y="880" width="16" height="450" fill="url(#b70)" style="mix-blend-mode:lighten"/>
<rect x="1196" y="880" width="16" height="450" fill="url(#b71)" style="mix-blend-mode:lighten"/>
<rect x="1212" y="880" width="16" height="450" fill="url(#b72)" style="mix-blend-mode:lighten"/>
<rect x="1228" y="880" width="16" height="450" fill="url(#b73)" style="mix-blend-mode:lighten"/>
<rect x="1244" y="880" width="16" height="450" fill="url(#b74)" style="mix-blend-mode:lighten"/>
<rect x="1260" y="880" width="16" height="450" fill="url(#b75)" style="mix-blend-mode:lighten"/>
<rect x="1276" y="880" width="16" height="450" fill="url(#b76)" style="mix-blend-mode:lighten"/>
<rect x="1292" y="880" width="16" height="450" fill="url(#b77)" style="mix-blend-mode:lighten"/>
<rect x="1308" y="880" width="16" height="450" fill="url(#b78)" style="mix-blend-mode:lighten"/>
<rect x="1324" y="880" width="16" height="450" fill="url(#b79)" style="mix-blend-mode:lighten"/>
</g>
<g mask="url(#mU)"><g filter="url(#fU)">
<rect x="60" y="600" width="1280" height="730" fill="url(#lowg)"/>
<path d="M60.0 600.0 L1340.0 600.0 L1340.0 880.0 L1300.0 880.0 L1200.0 920.0 L1100.0 900.0 L1000.0 900.0 L900.0 930.0 L800.0 940.0 L745.0 1000.0 L690.0 1000.0 L600.0 935.0 L480.0 935.0 L420.0 940.0 L300.0 980.0 L85.0 1000.0 L60.0 1000.0 Z" fill="rgb(131,0,128)"/>
<path d="M60.0 985.0 L300.0 965.0 L420.0 928.0 L600.0 925.0 L690.0 990.0 L745.0 990.0 L800.0 930.0 L900.0 920.0 L1000.0 890.0 L1100.0 890.0 L1200.0 910.0 L1340.0 870.0 L1340.0 930.0 L1200.0 965.0 L1100.0 950.0 L1000.0 955.0 L900.0 985.0 L800.0 1000.0 L745.0 1040.0 L690.0 1040.0 L600.0 995.0 L420.0 995.0 L300.0 1030.0 L60.0 1040.0 Z" fill="rgb(105,0,128)"/>
<path d="M478.0 740.0 L790.0 736.0 L800.0 930.0 L740.0 945.0 L690.0 945.0 L600.0 925.0 L478.0 925.0 Z" fill="rgb(156,0,92)"/>
<path d="M690.0 915.0 L745.0 915.0 L745.0 995.0 L700.0 1000.0 L690.0 990.0 Z" fill="rgb(163,0,128)"/>
<path d="M985.0 700.0 L1340.0 700.0 L1340.0 880.0 L1300.0 880.0 L1200.0 920.0 L1100.0 900.0 L985.0 900.0 Z" fill="rgb(128,0,133)"/>
<path d="M40.0 736.0 L79.0 736.0 L150.0 732.0 L224.0 728.0 L300.0 725.0 L370.0 722.0 L430.0 720.0 L498.0 718.0 L560.0 716.0 L620.0 714.0 L700.0 710.0 L780.0 709.0 L850.0 708.0 L920.0 706.0 L1000.0 703.0 L1080.0 701.0 L1150.0 699.0 L1230.0 694.0 L1313.0 686.0 L1360.0 686.0 L1360.0 730.0 L1313.0 730.0 L1230.0 738.0 L1150.0 743.0 L1080.0 745.0 L1000.0 747.0 L920.0 750.0 L850.0 752.0 L780.0 753.0 L700.0 754.0 L620.0 758.0 L560.0 760.0 L498.0 762.0 L430.0 764.0 L370.0 766.0 L300.0 769.0 L224.0 772.0 L150.0 776.0 L79.0 780.0 L40.0 780.0 Z" fill="rgb(96,0,230)"/>
<ellipse cx="443" cy="840" rx="44" ry="100" transform="rotate(-8 443 840)" fill="rgb(163,0,204)"/>
<ellipse cx="443" cy="840" rx="26" ry="90" transform="rotate(-8 443 840)" fill="rgb(255,0,204)"/>
<path d="M845.0 738.0 L978.0 736.0 L978.0 860.0 L880.0 915.0 L800.0 935.0 L790.0 880.0 L810.0 800.0 Z" fill="rgb(188,0,204)"/>
<path d="M868.0 742.0 L972.0 740.0 L972.0 845.0 L900.0 868.0 L868.0 850.0 Z" fill="rgb(255,0,204)"/>
<ellipse cx="1210" cy="865" rx="60" ry="35" fill="rgb(135,0,128)"/>
<ellipse cx="368" cy="835" rx="26" ry="80" transform="rotate(-8 368 835)" fill="rgb(120,0,140)"/>
<ellipse cx="698" cy="734" rx="70" ry="52" fill="rgb(51,0,128)"/>
<rect x="60" y="680" width="16" height="460" fill="url(#a0)" style="mix-blend-mode:lighten"/>
<rect x="76" y="680" width="16" height="460" fill="url(#a1)" style="mix-blend-mode:lighten"/>
<rect x="92" y="680" width="16" height="460" fill="url(#a2)" style="mix-blend-mode:lighten"/>
<rect x="108" y="680" width="16" height="460" fill="url(#a3)" style="mix-blend-mode:lighten"/>
<rect x="124" y="680" width="16" height="460" fill="url(#a4)" style="mix-blend-mode:lighten"/>
<rect x="140" y="680" width="16" height="460" fill="url(#a5)" style="mix-blend-mode:lighten"/>
<rect x="156" y="680" width="16" height="460" fill="url(#a6)" style="mix-blend-mode:lighten"/>
<rect x="172" y="680" width="16" height="460" fill="url(#a7)" style="mix-blend-mode:lighten"/>
<rect x="188" y="680" width="16" height="460" fill="url(#a8)" style="mix-blend-mode:lighten"/>
<rect x="204" y="680" width="16" height="460" fill="url(#a9)" style="mix-blend-mode:lighten"/>
<rect x="220" y="680" width="16" height="460" fill="url(#a10)" style="mix-blend-mode:lighten"/>
<rect x="236" y="680" width="16" height="460" fill="url(#a11)" style="mix-blend-mode:lighten"/>
<rect x="252" y="680" width="16" height="460" fill="url(#a12)" style="mix-blend-mode:lighten"/>
<rect x="268" y="680" width="16" height="460" fill="url(#a13)" style="mix-blend-mode:lighten"/>
<rect x="284" y="680" width="16" height="460" fill="url(#a14)" style="mix-blend-mode:lighten"/>
<rect x="300" y="680" width="16" height="460" fill="url(#a15)" style="mix-blend-mode:lighten"/>
<rect x="316" y="680" width="16" height="460" fill="url(#a16)" style="mix-blend-mode:lighten"/>
<rect x="332" y="680" width="16" height="460" fill="url(#a17)" style="mix-blend-mode:lighten"/>
<rect x="348" y="680" width="16" height="460" fill="url(#a18)" style="mix-blend-mode:lighten"/>
<rect x="364" y="680" width="16" height="460" fill="url(#a19)" style="mix-blend-mode:lighten"/>
<rect x="380" y="680" width="16" height="460" fill="url(#a20)" style="mix-blend-mode:lighten"/>
<rect x="396" y="680" width="16" height="460" fill="url(#a21)" style="mix-blend-mode:lighten"/>
<rect x="412" y="680" width="16" height="460" fill="url(#a22)" style="mix-blend-mode:lighten"/>
<rect x="428" y="680" width="16" height="460" fill="url(#a23)" style="mix-blend-mode:lighten"/>
<rect x="444" y="680" width="16" height="460" fill="url(#a24)" style="mix-blend-mode:lighten"/>
<rect x="460" y="680" width="16" height="460" fill="url(#a25)" style="mix-blend-mode:lighten"/>
<rect x="476" y="680" width="16" height="460" fill="url(#a26)" style="mix-blend-mode:lighten"/>
<rect x="492" y="680" width="16" height="460" fill="url(#a27)" style="mix-blend-mode:lighten"/>
<rect x="508" y="680" width="16" height="460" fill="url(#a28)" style="mix-blend-mode:lighten"/>
<rect x="524" y="680" width="16" height="460" fill="url(#a29)" style="mix-blend-mode:lighten"/>
<rect x="540" y="680" width="16" height="460" fill="url(#a30)" style="mix-blend-mode:lighten"/>
<rect x="556" y="680" width="16" height="460" fill="url(#a31)" style="mix-blend-mode:lighten"/>
<rect x="572" y="680" width="16" height="460" fill="url(#a32)" style="mix-blend-mode:lighten"/>
<rect x="588" y="680" width="16" height="460" fill="url(#a33)" style="mix-blend-mode:lighten"/>
<rect x="604" y="680" width="16" height="460" fill="url(#a34)" style="mix-blend-mode:lighten"/>
<rect x="620" y="680" width="16" height="460" fill="url(#a35)" style="mix-blend-mode:lighten"/>
<rect x="636" y="680" width="16" height="460" fill="url(#a36)" style="mix-blend-mode:lighten"/>
<rect x="652" y="680" width="16" height="460" fill="url(#a37)" style="mix-blend-mode:lighten"/>
<rect x="668" y="680" width="16" height="460" fill="url(#a38)" style="mix-blend-mode:lighten"/>
<rect x="684" y="680" width="16" height="460" fill="url(#a39)" style="mix-blend-mode:lighten"/>
<rect x="700" y="680" width="16" height="460" fill="url(#a40)" style="mix-blend-mode:lighten"/>
<rect x="716" y="680" width="16" height="460" fill="url(#a41)" style="mix-blend-mode:lighten"/>
<rect x="732" y="680" width="16" height="460" fill="url(#a42)" style="mix-blend-mode:lighten"/>
<rect x="748" y="680" width="16" height="460" fill="url(#a43)" style="mix-blend-mode:lighten"/>
<rect x="764" y="680" width="16" height="460" fill="url(#a44)" style="mix-blend-mode:lighten"/>
<rect x="780" y="680" width="16" height="460" fill="url(#a45)" style="mix-blend-mode:lighten"/>
<rect x="796" y="680" width="16" height="460" fill="url(#a46)" style="mix-blend-mode:lighten"/>
<rect x="812" y="680" width="16" height="460" fill="url(#a47)" style="mix-blend-mode:lighten"/>
<rect x="828" y="680" width="16" height="460" fill="url(#a48)" style="mix-blend-mode:lighten"/>
<rect x="844" y="680" width="16" height="460" fill="url(#a49)" style="mix-blend-mode:lighten"/>
<rect x="860" y="680" width="16" height="460" fill="url(#a50)" style="mix-blend-mode:lighten"/>
<rect x="876" y="680" width="16" height="460" fill="url(#a51)" style="mix-blend-mode:lighten"/>
<rect x="892" y="680" width="16" height="460" fill="url(#a52)" style="mix-blend-mode:lighten"/>
<rect x="908" y="680" width="16" height="460" fill="url(#a53)" style="mix-blend-mode:lighten"/>
<rect x="924" y="680" width="16" height="460" fill="url(#a54)" style="mix-blend-mode:lighten"/>
<rect x="940" y="680" width="16" height="460" fill="url(#a55)" style="mix-blend-mode:lighten"/>
<rect x="956" y="680" width="16" height="460" fill="url(#a56)" style="mix-blend-mode:lighten"/>
<rect x="972" y="680" width="16" height="460" fill="url(#a57)" style="mix-blend-mode:lighten"/>
<rect x="988" y="680" width="16" height="460" fill="url(#a58)" style="mix-blend-mode:lighten"/>
<rect x="1004" y="680" width="16" height="460" fill="url(#a59)" style="mix-blend-mode:lighten"/>
<rect x="1020" y="680" width="16" height="460" fill="url(#a60)" style="mix-blend-mode:lighten"/>
<rect x="1036" y="680" width="16" height="460" fill="url(#a61)" style="mix-blend-mode:lighten"/>
<rect x="1052" y="680" width="16" height="460" fill="url(#a62)" style="mix-blend-mode:lighten"/>
<rect x="1068" y="680" width="16" height="460" fill="url(#a63)" style="mix-blend-mode:lighten"/>
<rect x="1084" y="680" width="16" height="460" fill="url(#a64)" style="mix-blend-mode:lighten"/>
<rect x="1100" y="680" width="16" height="460" fill="url(#a65)" style="mix-blend-mode:lighten"/>
<rect x="1116" y="680" width="16" height="460" fill="url(#a66)" style="mix-blend-mode:lighten"/>
<rect x="1132" y="680" width="16" height="460" fill="url(#a67)" style="mix-blend-mode:lighten"/>
<rect x="1148" y="680" width="16" height="460" fill="url(#a68)" style="mix-blend-mode:lighten"/>
<rect x="1164" y="680" width="16" height="460" fill="url(#a69)" style="mix-blend-mode:lighten"/>
<rect x="1180" y="680" width="16" height="460" fill="url(#a70)" style="mix-blend-mode:lighten"/>
<rect x="1196" y="680" width="16" height="460" fill="url(#a71)" style="mix-blend-mode:lighten"/>
<rect x="1212" y="680" width="16" height="460" fill="url(#a72)" style="mix-blend-mode:lighten"/>
<rect x="1228" y="680" width="16" height="460" fill="url(#a73)" style="mix-blend-mode:lighten"/>
<rect x="1244" y="680" width="16" height="460" fill="url(#a74)" style="mix-blend-mode:lighten"/>
<rect x="1260" y="680" width="16" height="460" fill="url(#a75)" style="mix-blend-mode:lighten"/>
<rect x="1276" y="680" width="16" height="460" fill="url(#a76)" style="mix-blend-mode:lighten"/>
<rect x="1292" y="680" width="16" height="460" fill="url(#a77)" style="mix-blend-mode:lighten"/>
<rect x="1308" y="680" width="16" height="460" fill="url(#a78)" style="mix-blend-mode:lighten"/>
<rect x="1324" y="680" width="16" height="460" fill="url(#a79)" style="mix-blend-mode:lighten"/>
</g></g>
</g>
<g clip-path="url(#sq)">
<g stroke="#fff" stroke-width="3.3" fill="none" stroke-dasharray="3.3 7.72" stroke-dashoffset="-0.25">
<line x1="696" y1="692" x2="1311.0" y2="692.0"/>
<line x1="696" y1="692" x2="1290.0" y2="851.2"/>
<line x1="696" y1="692" x2="1228.6" y2="999.5"/>
<line x1="696" y1="692" x2="1130.9" y2="1126.9"/>
<line x1="696" y1="692" x2="1003.5" y2="1224.6"/>
<line x1="696" y1="692" x2="855.2" y2="1286.0"/>
<line x1="696" y1="692" x2="696.0" y2="1307.0"/>
<line x1="696" y1="692" x2="536.8" y2="1286.0"/>
<line x1="696" y1="692" x2="388.5" y2="1224.6"/>
<line x1="696" y1="692" x2="261.1" y2="1126.9"/>
<line x1="696" y1="692" x2="163.4" y2="999.5"/>
<line x1="696" y1="692" x2="102.0" y2="851.2"/>
<line x1="696" y1="692" x2="81.0" y2="692.0"/>
<line x1="696" y1="692" x2="102.0" y2="532.8"/>
<line x1="696" y1="692" x2="163.4" y2="384.5"/>
<line x1="696" y1="692" x2="261.1" y2="257.1"/>
<line x1="696" y1="692" x2="388.5" y2="159.4"/>
<line x1="696" y1="692" x2="536.8" y2="98.0"/>
<line x1="696" y1="692" x2="696.0" y2="77.0"/>
<line x1="696" y1="692" x2="855.2" y2="98.0"/>
<line x1="696" y1="692" x2="1003.5" y2="159.4"/>
<line x1="696" y1="692" x2="1130.9" y2="257.1"/>
<line x1="696" y1="692" x2="1228.6" y2="384.5"/>
<line x1="696" y1="692" x2="1290.0" y2="532.8"/>
</g>
<g stroke="#fff" stroke-width="3.3" fill="none" stroke-dasharray="3.3 7.72">
<circle cx="696" cy="692" r="160"/>
<circle cx="696" cy="692" r="318"/>
<circle cx="696" cy="692" r="471.5"/>
<circle cx="696" cy="692" r="615"/>
</g>
<path d="M724.2 679.6L738.8 673.2M753.6 666.7L768.2 660.3M783.0 653.8L797.5 647.4M812.4 640.9L826.9 634.5M987.2 564.2L1001.7 557.8M1016.2 551.4L1030.8 545.0M1045.2 538.7L1059.8 532.3M1074.3 526.0L1088.8 519.6M1103.3 513.2L1117.8 506.8M1132.3 500.5L1146.9 494.1M1161.3 487.7L1175.9 481.3M1190.4 475.0L1204.9 468.6M1219.4 462.2L1234.0 455.9M1248.4 449.5L1263.0 443.1" stroke="#fff" stroke-width="3.8" fill="none"/>
<circle cx="696" cy="692" r="12.3" stroke="#fff" stroke-width="3.8" fill="none"/>
<line x1="695.7" y1="692" x2="695.7" y2="1309" stroke="#dc3d0f" stroke-width="4"/>
<line x1="694" y1="691.5" x2="709.5" y2="685.8" stroke="#fff" stroke-width="3.5"/>
</g>
<g font-size="51" fill="#000">
<text x="694.5" y="56" text-anchor="middle" letter-spacing="0">24:00</text>
<path d="M0 0H-0.0863V-0.49H-0.244V-0.567C-0.17 -0.567 -0.098 -0.6 -0.0725 -0.698H0Z" transform="translate(649.5 1361.8) rotate(0) scale(51)"/>
<text x="659.5" y="1361.8" letter-spacing="-0.6">2:00</text>
<text transform="translate(57 692.6) rotate(-90) scale(0.975 1)" x="0" y="0" text-anchor="middle" letter-spacing="0">06:00</text>
<path d="M0 0H-0.0863V-0.49H-0.244V-0.567C-0.17 -0.567 -0.098 -0.6 -0.0725 -0.698H0Z" transform="translate(1331.05 642.5) rotate(90) scale(51)"/>
<text transform="translate(1331.05 642.5) rotate(90) scale(0.96 1)" x="11.5" y="0" letter-spacing="0">8:00</text>
</g>
<g font-size="36" fill="#fff">
<text x="858" y="958">+70</text>
<text x="1038" y="1197">+50</text>
</g>
<g fill="none" stroke="#fff" stroke-width="1.4">
<ellipse cx="924.4" cy="937.6" rx="3.0" ry="3.6"/>
<ellipse cx="1105.2" cy="1175.7" rx="3.1" ry="3.8"/>
</g>
<rect x="1338.5" y="1000.1" width="46.9" height="307.8" fill="url(#cb)" stroke="#000" stroke-width="2.3"/>
<path d="M1339.6 1245.2h3.0M1384.3 1245.2h-3.0M1339.6 1208.5h3.0M1384.3 1208.5h-3.0M1339.6 1182.5h3.0M1384.3 1182.5h-3.0M1339.6 1162.3h3.0M1384.3 1162.3h-3.0M1339.6 1145.8h3.0M1384.3 1145.8h-3.0M1339.6 1131.8h3.0M1384.3 1131.8h-3.0M1339.6 1119.7h3.0M1384.3 1119.7h-3.0M1339.6 1109.0h3.0M1384.3 1109.0h-3.0M1339.6 1099.5h5.5M1384.3 1099.5h-5.5M1339.6 1036.7h3.0M1384.3 1036.7h-3.0M1340.5 1001.2v1.3M1342.4 1001.2v1.3M1344.3 1001.2v1.3M1346.2 1001.2v1.3M1350.0 1001.2v1.3M1351.9 1001.2v1.3M1353.8 1001.2v1.3M1355.7 1001.2v1.3M1359.5 1001.2v1.3M1361.4 1001.2v1.3M1363.3 1001.2v1.3M1365.2 1001.2v1.3M1369.0 1001.2v1.3M1370.9 1001.2v1.3M1372.8 1001.2v1.3M1374.7 1001.2v1.3M1378.5 1001.2v1.3M1380.4 1001.2v1.3M1382.3 1001.2v1.3M1384.2 1001.2v1.3M1347.8 1001.2v3.4M1357.2 1001.2v3.4M1366.9 1001.2v3.4M1376.3 1001.2v3.4" stroke="#000" stroke-width="1.6" fill="none"/>
<g fill="#000">
<text x="1315" y="985" font-size="39">kR</text>
<text x="1372" y="985" font-size="39">H</text>
<text x="1399" y="990" font-size="17">2</text>
<path d="M0 0H-0.0863V-0.49H-0.244V-0.567C-0.17 -0.567 -0.098 -0.6 -0.0725 -0.698H0Z" transform="translate(1404.9 1109.7) rotate(0) scale(31)"/>
<text x="1410.3" y="1109.7" font-size="31">0</text>
<path d="M0 0H-0.0863V-0.49H-0.244V-0.567C-0.17 -0.567 -0.098 -0.6 -0.0725 -0.698H0Z" transform="translate(1404.75 1307.7) rotate(0) scale(31)"/>
</g>
</svg>
</body></html>
